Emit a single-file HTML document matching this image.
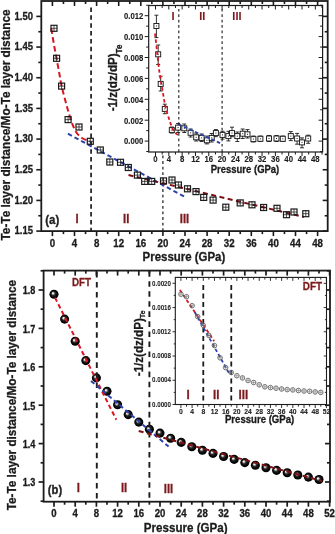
<!DOCTYPE html>
<html><head><meta charset="utf-8"><style>
html,body{margin:0;padding:0;background:#fff;}
svg{display:block;will-change:transform;}
text{font-family:'Liberation Sans',sans-serif;font-weight:bold;}
</style></head><body>
<svg width="335" height="534" viewBox="0 0 335 534">
<rect width="335" height="534" fill="#fff"/>
<rect x="41.3" y="1.0" width="286.4" height="230.1" fill="none" stroke="#1b1b1b" stroke-width="1.8"/>
<line x1="52.4" y1="231.1" x2="52.4" y2="236.1" stroke="#1b1b1b" stroke-width="1.6" stroke-linecap="butt"/>
<line x1="52.4" y1="1.0" x2="52.4" y2="6.0" stroke="#1b1b1b" stroke-width="1.6" stroke-linecap="butt"/>
<text x="0" y="0" transform="translate(52.4,246.6) scale(1,1.1)" font-size="9.7" text-anchor="middle" fill="#1b1b1b" stroke="#1b1b1b" stroke-width="0.28" >0</text>
<line x1="63.45" y1="231.1" x2="63.45" y2="234.1" stroke="#1b1b1b" stroke-width="1.6" stroke-linecap="butt"/>
<line x1="63.45" y1="1.0" x2="63.45" y2="4.0" stroke="#1b1b1b" stroke-width="1.6" stroke-linecap="butt"/>
<line x1="74.5" y1="231.1" x2="74.5" y2="236.1" stroke="#1b1b1b" stroke-width="1.6" stroke-linecap="butt"/>
<line x1="74.5" y1="1.0" x2="74.5" y2="6.0" stroke="#1b1b1b" stroke-width="1.6" stroke-linecap="butt"/>
<text x="0" y="0" transform="translate(74.5,246.6) scale(1,1.1)" font-size="9.7" text-anchor="middle" fill="#1b1b1b" stroke="#1b1b1b" stroke-width="0.28" >4</text>
<line x1="85.55000000000001" y1="231.1" x2="85.55000000000001" y2="234.1" stroke="#1b1b1b" stroke-width="1.6" stroke-linecap="butt"/>
<line x1="85.55000000000001" y1="1.0" x2="85.55000000000001" y2="4.0" stroke="#1b1b1b" stroke-width="1.6" stroke-linecap="butt"/>
<line x1="96.6" y1="231.1" x2="96.6" y2="236.1" stroke="#1b1b1b" stroke-width="1.6" stroke-linecap="butt"/>
<line x1="96.6" y1="1.0" x2="96.6" y2="6.0" stroke="#1b1b1b" stroke-width="1.6" stroke-linecap="butt"/>
<text x="0" y="0" transform="translate(96.6,246.6) scale(1,1.1)" font-size="9.7" text-anchor="middle" fill="#1b1b1b" stroke="#1b1b1b" stroke-width="0.28" >8</text>
<line x1="107.65" y1="231.1" x2="107.65" y2="234.1" stroke="#1b1b1b" stroke-width="1.6" stroke-linecap="butt"/>
<line x1="107.65" y1="1.0" x2="107.65" y2="4.0" stroke="#1b1b1b" stroke-width="1.6" stroke-linecap="butt"/>
<line x1="118.70000000000002" y1="231.1" x2="118.70000000000002" y2="236.1" stroke="#1b1b1b" stroke-width="1.6" stroke-linecap="butt"/>
<line x1="118.70000000000002" y1="1.0" x2="118.70000000000002" y2="6.0" stroke="#1b1b1b" stroke-width="1.6" stroke-linecap="butt"/>
<text x="0" y="0" transform="translate(118.70000000000002,246.6) scale(1,1.1)" font-size="9.7" text-anchor="middle" fill="#1b1b1b" stroke="#1b1b1b" stroke-width="0.28" >12</text>
<line x1="129.75" y1="231.1" x2="129.75" y2="234.1" stroke="#1b1b1b" stroke-width="1.6" stroke-linecap="butt"/>
<line x1="129.75" y1="1.0" x2="129.75" y2="4.0" stroke="#1b1b1b" stroke-width="1.6" stroke-linecap="butt"/>
<line x1="140.8" y1="231.1" x2="140.8" y2="236.1" stroke="#1b1b1b" stroke-width="1.6" stroke-linecap="butt"/>
<line x1="140.8" y1="1.0" x2="140.8" y2="6.0" stroke="#1b1b1b" stroke-width="1.6" stroke-linecap="butt"/>
<text x="0" y="0" transform="translate(140.8,246.6) scale(1,1.1)" font-size="9.7" text-anchor="middle" fill="#1b1b1b" stroke="#1b1b1b" stroke-width="0.28" >16</text>
<line x1="151.85" y1="231.1" x2="151.85" y2="234.1" stroke="#1b1b1b" stroke-width="1.6" stroke-linecap="butt"/>
<line x1="151.85" y1="1.0" x2="151.85" y2="4.0" stroke="#1b1b1b" stroke-width="1.6" stroke-linecap="butt"/>
<line x1="162.9" y1="231.1" x2="162.9" y2="236.1" stroke="#1b1b1b" stroke-width="1.6" stroke-linecap="butt"/>
<line x1="162.9" y1="1.0" x2="162.9" y2="6.0" stroke="#1b1b1b" stroke-width="1.6" stroke-linecap="butt"/>
<text x="0" y="0" transform="translate(162.9,246.6) scale(1,1.1)" font-size="9.7" text-anchor="middle" fill="#1b1b1b" stroke="#1b1b1b" stroke-width="0.28" >20</text>
<line x1="173.95000000000002" y1="231.1" x2="173.95000000000002" y2="234.1" stroke="#1b1b1b" stroke-width="1.6" stroke-linecap="butt"/>
<line x1="173.95000000000002" y1="1.0" x2="173.95000000000002" y2="4.0" stroke="#1b1b1b" stroke-width="1.6" stroke-linecap="butt"/>
<line x1="185.00000000000003" y1="231.1" x2="185.00000000000003" y2="236.1" stroke="#1b1b1b" stroke-width="1.6" stroke-linecap="butt"/>
<line x1="185.00000000000003" y1="1.0" x2="185.00000000000003" y2="6.0" stroke="#1b1b1b" stroke-width="1.6" stroke-linecap="butt"/>
<text x="0" y="0" transform="translate(185.00000000000003,246.6) scale(1,1.1)" font-size="9.7" text-anchor="middle" fill="#1b1b1b" stroke="#1b1b1b" stroke-width="0.28" >24</text>
<line x1="196.05" y1="231.1" x2="196.05" y2="234.1" stroke="#1b1b1b" stroke-width="1.6" stroke-linecap="butt"/>
<line x1="196.05" y1="1.0" x2="196.05" y2="4.0" stroke="#1b1b1b" stroke-width="1.6" stroke-linecap="butt"/>
<line x1="207.10000000000002" y1="231.1" x2="207.10000000000002" y2="236.1" stroke="#1b1b1b" stroke-width="1.6" stroke-linecap="butt"/>
<line x1="207.10000000000002" y1="1.0" x2="207.10000000000002" y2="6.0" stroke="#1b1b1b" stroke-width="1.6" stroke-linecap="butt"/>
<text x="0" y="0" transform="translate(207.10000000000002,246.6) scale(1,1.1)" font-size="9.7" text-anchor="middle" fill="#1b1b1b" stroke="#1b1b1b" stroke-width="0.28" >28</text>
<line x1="218.15" y1="231.1" x2="218.15" y2="234.1" stroke="#1b1b1b" stroke-width="1.6" stroke-linecap="butt"/>
<line x1="218.15" y1="1.0" x2="218.15" y2="4.0" stroke="#1b1b1b" stroke-width="1.6" stroke-linecap="butt"/>
<line x1="229.20000000000002" y1="231.1" x2="229.20000000000002" y2="236.1" stroke="#1b1b1b" stroke-width="1.6" stroke-linecap="butt"/>
<line x1="229.20000000000002" y1="1.0" x2="229.20000000000002" y2="6.0" stroke="#1b1b1b" stroke-width="1.6" stroke-linecap="butt"/>
<text x="0" y="0" transform="translate(229.20000000000002,246.6) scale(1,1.1)" font-size="9.7" text-anchor="middle" fill="#1b1b1b" stroke="#1b1b1b" stroke-width="0.28" >32</text>
<line x1="240.25000000000003" y1="231.1" x2="240.25000000000003" y2="234.1" stroke="#1b1b1b" stroke-width="1.6" stroke-linecap="butt"/>
<line x1="240.25000000000003" y1="1.0" x2="240.25000000000003" y2="4.0" stroke="#1b1b1b" stroke-width="1.6" stroke-linecap="butt"/>
<line x1="251.3" y1="231.1" x2="251.3" y2="236.1" stroke="#1b1b1b" stroke-width="1.6" stroke-linecap="butt"/>
<line x1="251.3" y1="1.0" x2="251.3" y2="6.0" stroke="#1b1b1b" stroke-width="1.6" stroke-linecap="butt"/>
<text x="0" y="0" transform="translate(251.3,246.6) scale(1,1.1)" font-size="9.7" text-anchor="middle" fill="#1b1b1b" stroke="#1b1b1b" stroke-width="0.28" >36</text>
<line x1="262.35" y1="231.1" x2="262.35" y2="234.1" stroke="#1b1b1b" stroke-width="1.6" stroke-linecap="butt"/>
<line x1="262.35" y1="1.0" x2="262.35" y2="4.0" stroke="#1b1b1b" stroke-width="1.6" stroke-linecap="butt"/>
<line x1="273.4" y1="231.1" x2="273.4" y2="236.1" stroke="#1b1b1b" stroke-width="1.6" stroke-linecap="butt"/>
<line x1="273.4" y1="1.0" x2="273.4" y2="6.0" stroke="#1b1b1b" stroke-width="1.6" stroke-linecap="butt"/>
<text x="0" y="0" transform="translate(273.4,246.6) scale(1,1.1)" font-size="9.7" text-anchor="middle" fill="#1b1b1b" stroke="#1b1b1b" stroke-width="0.28" >40</text>
<line x1="284.45" y1="231.1" x2="284.45" y2="234.1" stroke="#1b1b1b" stroke-width="1.6" stroke-linecap="butt"/>
<line x1="284.45" y1="1.0" x2="284.45" y2="4.0" stroke="#1b1b1b" stroke-width="1.6" stroke-linecap="butt"/>
<line x1="295.5" y1="231.1" x2="295.5" y2="236.1" stroke="#1b1b1b" stroke-width="1.6" stroke-linecap="butt"/>
<line x1="295.5" y1="1.0" x2="295.5" y2="6.0" stroke="#1b1b1b" stroke-width="1.6" stroke-linecap="butt"/>
<text x="0" y="0" transform="translate(295.5,246.6) scale(1,1.1)" font-size="9.7" text-anchor="middle" fill="#1b1b1b" stroke="#1b1b1b" stroke-width="0.28" >44</text>
<line x1="306.55" y1="231.1" x2="306.55" y2="234.1" stroke="#1b1b1b" stroke-width="1.6" stroke-linecap="butt"/>
<line x1="306.55" y1="1.0" x2="306.55" y2="4.0" stroke="#1b1b1b" stroke-width="1.6" stroke-linecap="butt"/>
<line x1="317.6" y1="231.1" x2="317.6" y2="236.1" stroke="#1b1b1b" stroke-width="1.6" stroke-linecap="butt"/>
<line x1="317.6" y1="1.0" x2="317.6" y2="6.0" stroke="#1b1b1b" stroke-width="1.6" stroke-linecap="butt"/>
<text x="0" y="0" transform="translate(317.6,246.6) scale(1,1.1)" font-size="9.7" text-anchor="middle" fill="#1b1b1b" stroke="#1b1b1b" stroke-width="0.28" >48</text>
<line x1="36.3" y1="231.09000000000006" x2="41.3" y2="231.09000000000006" stroke="#1b1b1b" stroke-width="1.6" stroke-linecap="butt"/>
<line x1="322.7" y1="231.09000000000006" x2="327.7" y2="231.09000000000006" stroke="#1b1b1b" stroke-width="1.6" stroke-linecap="butt"/>
<text x="0" y="0" transform="translate(33.0,234.29000000000005) scale(1,1.1)" font-size="9.5" text-anchor="end" fill="#1b1b1b" stroke="#1b1b1b" stroke-width="0.28" >1.15</text>
<line x1="38.3" y1="215.7550000000001" x2="41.3" y2="215.7550000000001" stroke="#1b1b1b" stroke-width="1.6" stroke-linecap="butt"/>
<line x1="324.7" y1="215.7550000000001" x2="327.7" y2="215.7550000000001" stroke="#1b1b1b" stroke-width="1.6" stroke-linecap="butt"/>
<line x1="36.3" y1="200.42000000000002" x2="41.3" y2="200.42000000000002" stroke="#1b1b1b" stroke-width="1.6" stroke-linecap="butt"/>
<line x1="322.7" y1="200.42000000000002" x2="327.7" y2="200.42000000000002" stroke="#1b1b1b" stroke-width="1.6" stroke-linecap="butt"/>
<text x="0" y="0" transform="translate(33.0,203.62) scale(1,1.1)" font-size="9.5" text-anchor="end" fill="#1b1b1b" stroke="#1b1b1b" stroke-width="0.28" >1.20</text>
<line x1="38.3" y1="185.0850000000001" x2="41.3" y2="185.0850000000001" stroke="#1b1b1b" stroke-width="1.6" stroke-linecap="butt"/>
<line x1="324.7" y1="185.0850000000001" x2="327.7" y2="185.0850000000001" stroke="#1b1b1b" stroke-width="1.6" stroke-linecap="butt"/>
<line x1="36.3" y1="169.75" x2="41.3" y2="169.75" stroke="#1b1b1b" stroke-width="1.6" stroke-linecap="butt"/>
<line x1="322.7" y1="169.75" x2="327.7" y2="169.75" stroke="#1b1b1b" stroke-width="1.6" stroke-linecap="butt"/>
<text x="0" y="0" transform="translate(33.0,172.95) scale(1,1.1)" font-size="9.5" text-anchor="end" fill="#1b1b1b" stroke="#1b1b1b" stroke-width="0.28" >1.25</text>
<line x1="38.3" y1="154.41500000000005" x2="41.3" y2="154.41500000000005" stroke="#1b1b1b" stroke-width="1.6" stroke-linecap="butt"/>
<line x1="324.7" y1="154.41500000000005" x2="327.7" y2="154.41500000000005" stroke="#1b1b1b" stroke-width="1.6" stroke-linecap="butt"/>
<line x1="36.3" y1="139.0800000000001" x2="41.3" y2="139.0800000000001" stroke="#1b1b1b" stroke-width="1.6" stroke-linecap="butt"/>
<line x1="322.7" y1="139.0800000000001" x2="327.7" y2="139.0800000000001" stroke="#1b1b1b" stroke-width="1.6" stroke-linecap="butt"/>
<text x="0" y="0" transform="translate(33.0,142.2800000000001) scale(1,1.1)" font-size="9.5" text-anchor="end" fill="#1b1b1b" stroke="#1b1b1b" stroke-width="0.28" >1.30</text>
<line x1="38.3" y1="123.74500000000003" x2="41.3" y2="123.74500000000003" stroke="#1b1b1b" stroke-width="1.6" stroke-linecap="butt"/>
<line x1="324.7" y1="123.74500000000003" x2="327.7" y2="123.74500000000003" stroke="#1b1b1b" stroke-width="1.6" stroke-linecap="butt"/>
<line x1="36.3" y1="108.41000000000008" x2="41.3" y2="108.41000000000008" stroke="#1b1b1b" stroke-width="1.6" stroke-linecap="butt"/>
<line x1="322.7" y1="108.41000000000008" x2="327.7" y2="108.41000000000008" stroke="#1b1b1b" stroke-width="1.6" stroke-linecap="butt"/>
<text x="0" y="0" transform="translate(33.0,111.61000000000008) scale(1,1.1)" font-size="9.5" text-anchor="end" fill="#1b1b1b" stroke="#1b1b1b" stroke-width="0.28" >1.35</text>
<line x1="38.3" y1="93.07499999999999" x2="41.3" y2="93.07499999999999" stroke="#1b1b1b" stroke-width="1.6" stroke-linecap="butt"/>
<line x1="324.7" y1="93.07499999999999" x2="327.7" y2="93.07499999999999" stroke="#1b1b1b" stroke-width="1.6" stroke-linecap="butt"/>
<line x1="36.3" y1="77.74000000000005" x2="41.3" y2="77.74000000000005" stroke="#1b1b1b" stroke-width="1.6" stroke-linecap="butt"/>
<line x1="322.7" y1="77.74000000000005" x2="327.7" y2="77.74000000000005" stroke="#1b1b1b" stroke-width="1.6" stroke-linecap="butt"/>
<text x="0" y="0" transform="translate(33.0,80.94000000000005) scale(1,1.1)" font-size="9.5" text-anchor="end" fill="#1b1b1b" stroke="#1b1b1b" stroke-width="0.28" >1.40</text>
<line x1="38.3" y1="62.40500000000011" x2="41.3" y2="62.40500000000011" stroke="#1b1b1b" stroke-width="1.6" stroke-linecap="butt"/>
<line x1="324.7" y1="62.40500000000011" x2="327.7" y2="62.40500000000011" stroke="#1b1b1b" stroke-width="1.6" stroke-linecap="butt"/>
<line x1="36.3" y1="47.07000000000002" x2="41.3" y2="47.07000000000002" stroke="#1b1b1b" stroke-width="1.6" stroke-linecap="butt"/>
<line x1="322.7" y1="47.07000000000002" x2="327.7" y2="47.07000000000002" stroke="#1b1b1b" stroke-width="1.6" stroke-linecap="butt"/>
<text x="0" y="0" transform="translate(33.0,50.270000000000024) scale(1,1.1)" font-size="9.5" text-anchor="end" fill="#1b1b1b" stroke="#1b1b1b" stroke-width="0.28" >1.45</text>
<line x1="38.3" y1="31.735000000000078" x2="41.3" y2="31.735000000000078" stroke="#1b1b1b" stroke-width="1.6" stroke-linecap="butt"/>
<line x1="324.7" y1="31.735000000000078" x2="327.7" y2="31.735000000000078" stroke="#1b1b1b" stroke-width="1.6" stroke-linecap="butt"/>
<line x1="36.3" y1="16.4" x2="41.3" y2="16.4" stroke="#1b1b1b" stroke-width="1.6" stroke-linecap="butt"/>
<line x1="322.7" y1="16.4" x2="327.7" y2="16.4" stroke="#1b1b1b" stroke-width="1.6" stroke-linecap="butt"/>
<text x="0" y="0" transform="translate(33.0,19.599999999999998) scale(1,1.1)" font-size="9.5" text-anchor="end" fill="#1b1b1b" stroke="#1b1b1b" stroke-width="0.28" >1.50</text>
<text x="0" y="0" font-size="11.82" text-anchor="middle" fill="#1b1b1b" stroke="#1b1b1b" stroke-width="0.28" transform="translate(9.5,125.0) rotate(-90) scale(1,1.05)">Te-Te layer distance/Mo-Te layer distance</text>
<text x="0" y="0" transform="translate(183.9,261.2) scale(1,1.1)" font-size="11.45" text-anchor="middle" fill="#1b1b1b" stroke="#1b1b1b" stroke-width="0.28" >Pressure (GPa)</text>
<line x1="91.075" y1="7.5" x2="91.075" y2="231.1" stroke="#1b1b1b" stroke-width="1.7" stroke-dasharray="4.5 3.37" stroke-linecap="butt"/>
<line x1="162.9" y1="231.1" x2="162.9" y2="152" stroke="#1b1b1b" stroke-width="1.2" stroke-dasharray="2.8 2.8" stroke-linecap="butt"/>
<text x="0" y="0" transform="translate(52.2,223.8) scale(1,1.1)" font-size="11.5" text-anchor="middle" fill="#222" stroke="#222" stroke-width="0.28" >(a)</text>
<text x="0" y="0" transform="translate(77.0,222.7) scale(1,1.1)" font-size="11.3" text-anchor="middle" fill="#7d1a1e" stroke="#7d1a1e" stroke-width="0.28" >I</text>
<text x="0" y="0" transform="translate(126.2,222.5) scale(1,1.1)" font-size="11.3" text-anchor="middle" fill="#7d1a1e" stroke="#7d1a1e" stroke-width="0.28" >II</text>
<text x="0" y="0" transform="translate(184.5,222.7) scale(1,1.1)" font-size="11.3" text-anchor="middle" fill="#7d1a1e" stroke="#7d1a1e" stroke-width="0.28" >III</text>
<path d="M51.20,28.50 C51.73,31.58 53.40,41.42 54.40,47.00 C55.40,52.58 56.33,57.33 57.20,62.00 C58.07,66.67 58.87,71.00 59.60,75.00 C60.33,79.00 60.62,81.63 61.60,86.00 C62.58,90.37 64.30,96.70 65.50,101.20 C66.70,105.70 67.60,109.07 68.80,113.00 C70.00,116.93 71.40,121.52 72.70,124.80 C74.00,128.08 75.07,130.50 76.60,132.70 C78.13,134.90 80.03,136.68 81.90,138.00 C83.77,139.32 86.45,140.03 87.80,140.60 C89.15,141.17 89.63,141.27 90.00,141.40" fill="none" stroke="#d81520" stroke-width="2" stroke-dasharray="5.6 3.2"/>
<line x1="67.9" y1="133.7" x2="185" y2="197" stroke="#2c42aa" stroke-width="2" stroke-dasharray="4.5 3" stroke-linecap="butt"/>
<line x1="128.5" y1="175" x2="304" y2="217" stroke="#7e1016" stroke-width="2" stroke-dasharray="5 3.5" stroke-linecap="butt"/>
<rect x="51.0" y="25.3" width="6.0" height="6.0" fill="none" stroke="#1b1b1b" stroke-width="1.2"/>
<line x1="54" y1="25.3" x2="54" y2="31.3" stroke="#1b1b1b" stroke-width="0.75" stroke-linecap="butt"/>
<line x1="51.0" y1="28.3" x2="57.0" y2="28.3" stroke="#1b1b1b" stroke-width="0.75" stroke-linecap="butt"/>
<rect x="53.6" y="55.3" width="6.0" height="6.0" fill="none" stroke="#1b1b1b" stroke-width="1.2"/>
<line x1="56.6" y1="55.3" x2="56.6" y2="61.3" stroke="#1b1b1b" stroke-width="0.75" stroke-linecap="butt"/>
<line x1="53.6" y1="58.3" x2="59.6" y2="58.3" stroke="#1b1b1b" stroke-width="0.75" stroke-linecap="butt"/>
<rect x="58.6" y="83.1" width="6.0" height="6.0" fill="none" stroke="#1b1b1b" stroke-width="1.2"/>
<line x1="61.6" y1="83.1" x2="61.6" y2="89.1" stroke="#1b1b1b" stroke-width="0.75" stroke-linecap="butt"/>
<line x1="58.6" y1="86.1" x2="64.6" y2="86.1" stroke="#1b1b1b" stroke-width="0.75" stroke-linecap="butt"/>
<rect x="65.1" y="116.6" width="6.0" height="6.0" fill="none" stroke="#1b1b1b" stroke-width="1.2"/>
<line x1="68.1" y1="116.6" x2="68.1" y2="122.6" stroke="#1b1b1b" stroke-width="0.75" stroke-linecap="butt"/>
<line x1="65.1" y1="119.6" x2="71.1" y2="119.6" stroke="#1b1b1b" stroke-width="0.75" stroke-linecap="butt"/>
<rect x="76.0" y="124.0" width="6.0" height="6.0" fill="none" stroke="#1b1b1b" stroke-width="1.2"/>
<line x1="79" y1="124.0" x2="79" y2="130.0" stroke="#1b1b1b" stroke-width="0.75" stroke-linecap="butt"/>
<line x1="76.0" y1="127" x2="82.0" y2="127" stroke="#1b1b1b" stroke-width="0.75" stroke-linecap="butt"/>
<rect x="87.3" y="138.3" width="6.0" height="6.0" fill="none" stroke="#1b1b1b" stroke-width="1.2"/>
<line x1="90.3" y1="138.3" x2="90.3" y2="144.3" stroke="#1b1b1b" stroke-width="0.75" stroke-linecap="butt"/>
<line x1="87.3" y1="141.3" x2="93.3" y2="141.3" stroke="#1b1b1b" stroke-width="0.75" stroke-linecap="butt"/>
<rect x="97.3" y="147.0" width="6.0" height="6.0" fill="none" stroke="#1b1b1b" stroke-width="1.2"/>
<line x1="100.3" y1="147.0" x2="100.3" y2="153.0" stroke="#1b1b1b" stroke-width="0.75" stroke-linecap="butt"/>
<line x1="97.3" y1="150" x2="103.3" y2="150" stroke="#1b1b1b" stroke-width="0.75" stroke-linecap="butt"/>
<rect x="106.8" y="159.0" width="6.0" height="6.0" fill="none" stroke="#1b1b1b" stroke-width="1.2"/>
<line x1="109.8" y1="159.0" x2="109.8" y2="165.0" stroke="#1b1b1b" stroke-width="0.75" stroke-linecap="butt"/>
<line x1="106.8" y1="162" x2="112.8" y2="162" stroke="#1b1b1b" stroke-width="0.75" stroke-linecap="butt"/>
<rect x="117.5" y="159.3" width="6.0" height="6.0" fill="none" stroke="#1b1b1b" stroke-width="1.2"/>
<line x1="120.5" y1="159.3" x2="120.5" y2="165.3" stroke="#1b1b1b" stroke-width="0.75" stroke-linecap="butt"/>
<line x1="117.5" y1="162.3" x2="123.5" y2="162.3" stroke="#1b1b1b" stroke-width="0.75" stroke-linecap="butt"/>
<rect x="125.30000000000001" y="164.5" width="6.0" height="6.0" fill="none" stroke="#1b1b1b" stroke-width="1.2"/>
<line x1="128.3" y1="164.5" x2="128.3" y2="170.5" stroke="#1b1b1b" stroke-width="0.75" stroke-linecap="butt"/>
<line x1="125.30000000000001" y1="167.5" x2="131.3" y2="167.5" stroke="#1b1b1b" stroke-width="0.75" stroke-linecap="butt"/>
<rect x="134.4" y="172.1" width="6.0" height="6.0" fill="none" stroke="#1b1b1b" stroke-width="1.2"/>
<line x1="137.4" y1="172.1" x2="137.4" y2="178.1" stroke="#1b1b1b" stroke-width="0.75" stroke-linecap="butt"/>
<line x1="134.4" y1="175.1" x2="140.4" y2="175.1" stroke="#1b1b1b" stroke-width="0.75" stroke-linecap="butt"/>
<rect x="141.7" y="178.4" width="6.0" height="6.0" fill="none" stroke="#1b1b1b" stroke-width="1.2"/>
<line x1="144.7" y1="178.4" x2="144.7" y2="184.4" stroke="#1b1b1b" stroke-width="0.75" stroke-linecap="butt"/>
<line x1="141.7" y1="181.4" x2="147.7" y2="181.4" stroke="#1b1b1b" stroke-width="0.75" stroke-linecap="butt"/>
<rect x="148.7" y="178.4" width="6.0" height="6.0" fill="none" stroke="#1b1b1b" stroke-width="1.2"/>
<line x1="151.7" y1="178.4" x2="151.7" y2="184.4" stroke="#1b1b1b" stroke-width="0.75" stroke-linecap="butt"/>
<line x1="148.7" y1="181.4" x2="154.7" y2="181.4" stroke="#1b1b1b" stroke-width="0.75" stroke-linecap="butt"/>
<rect x="160.5" y="177.9" width="6.0" height="6.0" fill="none" stroke="#1b1b1b" stroke-width="1.2"/>
<line x1="163.5" y1="177.9" x2="163.5" y2="183.9" stroke="#1b1b1b" stroke-width="0.75" stroke-linecap="butt"/>
<line x1="160.5" y1="180.9" x2="166.5" y2="180.9" stroke="#1b1b1b" stroke-width="0.75" stroke-linecap="butt"/>
<rect x="169.0" y="177.0" width="6.0" height="6.0" fill="none" stroke="#1b1b1b" stroke-width="1.2"/>
<line x1="172" y1="177.0" x2="172" y2="183.0" stroke="#1b1b1b" stroke-width="0.75" stroke-linecap="butt"/>
<line x1="169.0" y1="180" x2="175.0" y2="180" stroke="#1b1b1b" stroke-width="0.75" stroke-linecap="butt"/>
<rect x="175.4" y="182.0" width="6.0" height="6.0" fill="none" stroke="#1b1b1b" stroke-width="1.2"/>
<line x1="178.4" y1="182.0" x2="178.4" y2="188.0" stroke="#1b1b1b" stroke-width="0.75" stroke-linecap="butt"/>
<line x1="175.4" y1="185" x2="181.4" y2="185" stroke="#1b1b1b" stroke-width="0.75" stroke-linecap="butt"/>
<rect x="184.5" y="185.8" width="6.0" height="6.0" fill="none" stroke="#1b1b1b" stroke-width="1.2"/>
<line x1="187.5" y1="185.8" x2="187.5" y2="191.8" stroke="#1b1b1b" stroke-width="0.75" stroke-linecap="butt"/>
<line x1="184.5" y1="188.8" x2="190.5" y2="188.8" stroke="#1b1b1b" stroke-width="0.75" stroke-linecap="butt"/>
<rect x="193.0" y="188.6" width="6.0" height="6.0" fill="none" stroke="#1b1b1b" stroke-width="1.2"/>
<line x1="196" y1="188.6" x2="196" y2="194.6" stroke="#1b1b1b" stroke-width="0.75" stroke-linecap="butt"/>
<line x1="193.0" y1="191.6" x2="199.0" y2="191.6" stroke="#1b1b1b" stroke-width="0.75" stroke-linecap="butt"/>
<rect x="200.7" y="194.4" width="6.0" height="6.0" fill="none" stroke="#1b1b1b" stroke-width="1.2"/>
<line x1="203.7" y1="194.4" x2="203.7" y2="200.4" stroke="#1b1b1b" stroke-width="0.75" stroke-linecap="butt"/>
<line x1="200.7" y1="197.4" x2="206.7" y2="197.4" stroke="#1b1b1b" stroke-width="0.75" stroke-linecap="butt"/>
<rect x="210.1" y="197.1" width="6.0" height="6.0" fill="none" stroke="#1b1b1b" stroke-width="1.2"/>
<line x1="213.1" y1="197.1" x2="213.1" y2="203.1" stroke="#1b1b1b" stroke-width="0.75" stroke-linecap="butt"/>
<line x1="210.1" y1="200.1" x2="216.1" y2="200.1" stroke="#1b1b1b" stroke-width="0.75" stroke-linecap="butt"/>
<rect x="222.8" y="204.2" width="6.0" height="6.0" fill="none" stroke="#1b1b1b" stroke-width="1.2"/>
<line x1="225.8" y1="204.2" x2="225.8" y2="210.2" stroke="#1b1b1b" stroke-width="0.75" stroke-linecap="butt"/>
<line x1="222.8" y1="207.2" x2="228.8" y2="207.2" stroke="#1b1b1b" stroke-width="0.75" stroke-linecap="butt"/>
<rect x="237.2" y="199.9" width="6.0" height="6.0" fill="none" stroke="#1b1b1b" stroke-width="1.2"/>
<line x1="240.2" y1="199.9" x2="240.2" y2="205.9" stroke="#1b1b1b" stroke-width="0.75" stroke-linecap="butt"/>
<line x1="237.2" y1="202.9" x2="243.2" y2="202.9" stroke="#1b1b1b" stroke-width="0.75" stroke-linecap="butt"/>
<rect x="249.0" y="201.8" width="6.0" height="6.0" fill="none" stroke="#1b1b1b" stroke-width="1.2"/>
<line x1="252" y1="201.8" x2="252" y2="207.8" stroke="#1b1b1b" stroke-width="0.75" stroke-linecap="butt"/>
<line x1="249.0" y1="204.8" x2="255.0" y2="204.8" stroke="#1b1b1b" stroke-width="0.75" stroke-linecap="butt"/>
<rect x="260.6" y="204.5" width="6.0" height="6.0" fill="none" stroke="#1b1b1b" stroke-width="1.2"/>
<line x1="263.6" y1="204.5" x2="263.6" y2="210.5" stroke="#1b1b1b" stroke-width="0.75" stroke-linecap="butt"/>
<line x1="260.6" y1="207.5" x2="266.6" y2="207.5" stroke="#1b1b1b" stroke-width="0.75" stroke-linecap="butt"/>
<rect x="274.0" y="205.3" width="6.0" height="6.0" fill="none" stroke="#1b1b1b" stroke-width="1.2"/>
<line x1="277" y1="205.3" x2="277" y2="211.3" stroke="#1b1b1b" stroke-width="0.75" stroke-linecap="butt"/>
<line x1="274.0" y1="208.3" x2="280.0" y2="208.3" stroke="#1b1b1b" stroke-width="0.75" stroke-linecap="butt"/>
<rect x="283.5" y="211.7" width="6.0" height="6.0" fill="none" stroke="#1b1b1b" stroke-width="1.2"/>
<line x1="286.5" y1="211.7" x2="286.5" y2="217.7" stroke="#1b1b1b" stroke-width="0.75" stroke-linecap="butt"/>
<line x1="283.5" y1="214.7" x2="289.5" y2="214.7" stroke="#1b1b1b" stroke-width="0.75" stroke-linecap="butt"/>
<rect x="291.0" y="209.0" width="6.0" height="6.0" fill="none" stroke="#1b1b1b" stroke-width="1.2"/>
<line x1="294" y1="209.0" x2="294" y2="215.0" stroke="#1b1b1b" stroke-width="0.75" stroke-linecap="butt"/>
<line x1="291.0" y1="212" x2="297.0" y2="212" stroke="#1b1b1b" stroke-width="0.75" stroke-linecap="butt"/>
<rect x="302.8" y="210.7" width="6.0" height="6.0" fill="none" stroke="#1b1b1b" stroke-width="1.2"/>
<line x1="305.8" y1="210.7" x2="305.8" y2="216.7" stroke="#1b1b1b" stroke-width="0.75" stroke-linecap="butt"/>
<line x1="302.8" y1="213.7" x2="308.8" y2="213.7" stroke="#1b1b1b" stroke-width="0.75" stroke-linecap="butt"/>
<rect x="148.7" y="5.5" width="173.90000000000003" height="146.5" fill="#fff" stroke="#1b1b1b" stroke-width="1.2"/>
<line x1="155.5" y1="152.0" x2="155.5" y2="156.0" stroke="#1b1b1b" stroke-width="1" stroke-linecap="butt"/>
<line x1="155.5" y1="5.5" x2="155.5" y2="9.5" stroke="#1b1b1b" stroke-width="1" stroke-linecap="butt"/>
<text x="0" y="0" transform="translate(155.5,162.0) scale(1,1.05)" font-size="7.8" text-anchor="middle" fill="#1b1b1b" stroke="#1b1b1b" stroke-width="0.12" >0</text>
<line x1="162.16" y1="152.0" x2="162.16" y2="154.5" stroke="#1b1b1b" stroke-width="1" stroke-linecap="butt"/>
<line x1="162.16" y1="5.5" x2="162.16" y2="8.0" stroke="#1b1b1b" stroke-width="1" stroke-linecap="butt"/>
<line x1="168.82" y1="152.0" x2="168.82" y2="156.0" stroke="#1b1b1b" stroke-width="1" stroke-linecap="butt"/>
<line x1="168.82" y1="5.5" x2="168.82" y2="9.5" stroke="#1b1b1b" stroke-width="1" stroke-linecap="butt"/>
<text x="0" y="0" transform="translate(168.82,162.0) scale(1,1.05)" font-size="7.8" text-anchor="middle" fill="#1b1b1b" stroke="#1b1b1b" stroke-width="0.12" >4</text>
<line x1="175.48" y1="152.0" x2="175.48" y2="154.5" stroke="#1b1b1b" stroke-width="1" stroke-linecap="butt"/>
<line x1="175.48" y1="5.5" x2="175.48" y2="8.0" stroke="#1b1b1b" stroke-width="1" stroke-linecap="butt"/>
<line x1="182.14" y1="152.0" x2="182.14" y2="156.0" stroke="#1b1b1b" stroke-width="1" stroke-linecap="butt"/>
<line x1="182.14" y1="5.5" x2="182.14" y2="9.5" stroke="#1b1b1b" stroke-width="1" stroke-linecap="butt"/>
<text x="0" y="0" transform="translate(182.14,162.0) scale(1,1.05)" font-size="7.8" text-anchor="middle" fill="#1b1b1b" stroke="#1b1b1b" stroke-width="0.12" >8</text>
<line x1="188.8" y1="152.0" x2="188.8" y2="154.5" stroke="#1b1b1b" stroke-width="1" stroke-linecap="butt"/>
<line x1="188.8" y1="5.5" x2="188.8" y2="8.0" stroke="#1b1b1b" stroke-width="1" stroke-linecap="butt"/>
<line x1="195.46" y1="152.0" x2="195.46" y2="156.0" stroke="#1b1b1b" stroke-width="1" stroke-linecap="butt"/>
<line x1="195.46" y1="5.5" x2="195.46" y2="9.5" stroke="#1b1b1b" stroke-width="1" stroke-linecap="butt"/>
<text x="0" y="0" transform="translate(195.46,162.0) scale(1,1.05)" font-size="7.8" text-anchor="middle" fill="#1b1b1b" stroke="#1b1b1b" stroke-width="0.12" >12</text>
<line x1="202.12" y1="152.0" x2="202.12" y2="154.5" stroke="#1b1b1b" stroke-width="1" stroke-linecap="butt"/>
<line x1="202.12" y1="5.5" x2="202.12" y2="8.0" stroke="#1b1b1b" stroke-width="1" stroke-linecap="butt"/>
<line x1="208.78" y1="152.0" x2="208.78" y2="156.0" stroke="#1b1b1b" stroke-width="1" stroke-linecap="butt"/>
<line x1="208.78" y1="5.5" x2="208.78" y2="9.5" stroke="#1b1b1b" stroke-width="1" stroke-linecap="butt"/>
<text x="0" y="0" transform="translate(208.78,162.0) scale(1,1.05)" font-size="7.8" text-anchor="middle" fill="#1b1b1b" stroke="#1b1b1b" stroke-width="0.12" >16</text>
<line x1="215.44" y1="152.0" x2="215.44" y2="154.5" stroke="#1b1b1b" stroke-width="1" stroke-linecap="butt"/>
<line x1="215.44" y1="5.5" x2="215.44" y2="8.0" stroke="#1b1b1b" stroke-width="1" stroke-linecap="butt"/>
<line x1="222.1" y1="152.0" x2="222.1" y2="156.0" stroke="#1b1b1b" stroke-width="1" stroke-linecap="butt"/>
<line x1="222.1" y1="5.5" x2="222.1" y2="9.5" stroke="#1b1b1b" stroke-width="1" stroke-linecap="butt"/>
<text x="0" y="0" transform="translate(222.1,162.0) scale(1,1.05)" font-size="7.8" text-anchor="middle" fill="#1b1b1b" stroke="#1b1b1b" stroke-width="0.12" >20</text>
<line x1="228.76" y1="152.0" x2="228.76" y2="154.5" stroke="#1b1b1b" stroke-width="1" stroke-linecap="butt"/>
<line x1="228.76" y1="5.5" x2="228.76" y2="8.0" stroke="#1b1b1b" stroke-width="1" stroke-linecap="butt"/>
<line x1="235.42000000000002" y1="152.0" x2="235.42000000000002" y2="156.0" stroke="#1b1b1b" stroke-width="1" stroke-linecap="butt"/>
<line x1="235.42000000000002" y1="5.5" x2="235.42000000000002" y2="9.5" stroke="#1b1b1b" stroke-width="1" stroke-linecap="butt"/>
<text x="0" y="0" transform="translate(235.42000000000002,162.0) scale(1,1.05)" font-size="7.8" text-anchor="middle" fill="#1b1b1b" stroke="#1b1b1b" stroke-width="0.12" >24</text>
<line x1="242.07999999999998" y1="152.0" x2="242.07999999999998" y2="154.5" stroke="#1b1b1b" stroke-width="1" stroke-linecap="butt"/>
<line x1="242.07999999999998" y1="5.5" x2="242.07999999999998" y2="8.0" stroke="#1b1b1b" stroke-width="1" stroke-linecap="butt"/>
<line x1="248.74" y1="152.0" x2="248.74" y2="156.0" stroke="#1b1b1b" stroke-width="1" stroke-linecap="butt"/>
<line x1="248.74" y1="5.5" x2="248.74" y2="9.5" stroke="#1b1b1b" stroke-width="1" stroke-linecap="butt"/>
<text x="0" y="0" transform="translate(248.74,162.0) scale(1,1.05)" font-size="7.8" text-anchor="middle" fill="#1b1b1b" stroke="#1b1b1b" stroke-width="0.12" >28</text>
<line x1="255.4" y1="152.0" x2="255.4" y2="154.5" stroke="#1b1b1b" stroke-width="1" stroke-linecap="butt"/>
<line x1="255.4" y1="5.5" x2="255.4" y2="8.0" stroke="#1b1b1b" stroke-width="1" stroke-linecap="butt"/>
<line x1="262.06" y1="152.0" x2="262.06" y2="156.0" stroke="#1b1b1b" stroke-width="1" stroke-linecap="butt"/>
<line x1="262.06" y1="5.5" x2="262.06" y2="9.5" stroke="#1b1b1b" stroke-width="1" stroke-linecap="butt"/>
<text x="0" y="0" transform="translate(262.06,162.0) scale(1,1.05)" font-size="7.8" text-anchor="middle" fill="#1b1b1b" stroke="#1b1b1b" stroke-width="0.12" >32</text>
<line x1="268.72" y1="152.0" x2="268.72" y2="154.5" stroke="#1b1b1b" stroke-width="1" stroke-linecap="butt"/>
<line x1="268.72" y1="5.5" x2="268.72" y2="8.0" stroke="#1b1b1b" stroke-width="1" stroke-linecap="butt"/>
<line x1="275.38" y1="152.0" x2="275.38" y2="156.0" stroke="#1b1b1b" stroke-width="1" stroke-linecap="butt"/>
<line x1="275.38" y1="5.5" x2="275.38" y2="9.5" stroke="#1b1b1b" stroke-width="1" stroke-linecap="butt"/>
<text x="0" y="0" transform="translate(275.38,162.0) scale(1,1.05)" font-size="7.8" text-anchor="middle" fill="#1b1b1b" stroke="#1b1b1b" stroke-width="0.12" >36</text>
<line x1="282.04" y1="152.0" x2="282.04" y2="154.5" stroke="#1b1b1b" stroke-width="1" stroke-linecap="butt"/>
<line x1="282.04" y1="5.5" x2="282.04" y2="8.0" stroke="#1b1b1b" stroke-width="1" stroke-linecap="butt"/>
<line x1="288.7" y1="152.0" x2="288.7" y2="156.0" stroke="#1b1b1b" stroke-width="1" stroke-linecap="butt"/>
<line x1="288.7" y1="5.5" x2="288.7" y2="9.5" stroke="#1b1b1b" stroke-width="1" stroke-linecap="butt"/>
<text x="0" y="0" transform="translate(288.7,162.0) scale(1,1.05)" font-size="7.8" text-anchor="middle" fill="#1b1b1b" stroke="#1b1b1b" stroke-width="0.12" >40</text>
<line x1="295.36" y1="152.0" x2="295.36" y2="154.5" stroke="#1b1b1b" stroke-width="1" stroke-linecap="butt"/>
<line x1="295.36" y1="5.5" x2="295.36" y2="8.0" stroke="#1b1b1b" stroke-width="1" stroke-linecap="butt"/>
<line x1="302.02" y1="152.0" x2="302.02" y2="156.0" stroke="#1b1b1b" stroke-width="1" stroke-linecap="butt"/>
<line x1="302.02" y1="5.5" x2="302.02" y2="9.5" stroke="#1b1b1b" stroke-width="1" stroke-linecap="butt"/>
<text x="0" y="0" transform="translate(302.02,162.0) scale(1,1.05)" font-size="7.8" text-anchor="middle" fill="#1b1b1b" stroke="#1b1b1b" stroke-width="0.12" >44</text>
<line x1="308.68" y1="152.0" x2="308.68" y2="154.5" stroke="#1b1b1b" stroke-width="1" stroke-linecap="butt"/>
<line x1="308.68" y1="5.5" x2="308.68" y2="8.0" stroke="#1b1b1b" stroke-width="1" stroke-linecap="butt"/>
<line x1="315.34000000000003" y1="152.0" x2="315.34000000000003" y2="156.0" stroke="#1b1b1b" stroke-width="1" stroke-linecap="butt"/>
<line x1="315.34000000000003" y1="5.5" x2="315.34000000000003" y2="9.5" stroke="#1b1b1b" stroke-width="1" stroke-linecap="butt"/>
<text x="0" y="0" transform="translate(315.34000000000003,162.0) scale(1,1.05)" font-size="7.8" text-anchor="middle" fill="#1b1b1b" stroke="#1b1b1b" stroke-width="0.12" >48</text>
<line x1="322.0" y1="152.0" x2="322.0" y2="154.5" stroke="#1b1b1b" stroke-width="1" stroke-linecap="butt"/>
<line x1="322.0" y1="5.5" x2="322.0" y2="8.0" stroke="#1b1b1b" stroke-width="1" stroke-linecap="butt"/>
<line x1="146.2" y1="151.54999999999998" x2="148.7" y2="151.54999999999998" stroke="#1b1b1b" stroke-width="1" stroke-linecap="butt"/>
<line x1="320.1" y1="151.54999999999998" x2="322.6" y2="151.54999999999998" stroke="#1b1b1b" stroke-width="1" stroke-linecap="butt"/>
<line x1="144.7" y1="141.1" x2="148.7" y2="141.1" stroke="#1b1b1b" stroke-width="1" stroke-linecap="butt"/>
<line x1="318.6" y1="141.1" x2="322.6" y2="141.1" stroke="#1b1b1b" stroke-width="1" stroke-linecap="butt"/>
<text x="0" y="0" transform="translate(143.3,144.4) scale(1,1.12)" font-size="7.7" text-anchor="end" fill="#1b1b1b" stroke="#1b1b1b" stroke-width="0.12" >0.000</text>
<line x1="146.2" y1="130.65" x2="148.7" y2="130.65" stroke="#1b1b1b" stroke-width="1" stroke-linecap="butt"/>
<line x1="320.1" y1="130.65" x2="322.6" y2="130.65" stroke="#1b1b1b" stroke-width="1" stroke-linecap="butt"/>
<line x1="144.7" y1="120.19999999999999" x2="148.7" y2="120.19999999999999" stroke="#1b1b1b" stroke-width="1" stroke-linecap="butt"/>
<line x1="318.6" y1="120.19999999999999" x2="322.6" y2="120.19999999999999" stroke="#1b1b1b" stroke-width="1" stroke-linecap="butt"/>
<text x="0" y="0" transform="translate(143.3,123.49999999999999) scale(1,1.12)" font-size="7.7" text-anchor="end" fill="#1b1b1b" stroke="#1b1b1b" stroke-width="0.12" >0.002</text>
<line x1="146.2" y1="109.75" x2="148.7" y2="109.75" stroke="#1b1b1b" stroke-width="1" stroke-linecap="butt"/>
<line x1="320.1" y1="109.75" x2="322.6" y2="109.75" stroke="#1b1b1b" stroke-width="1" stroke-linecap="butt"/>
<line x1="144.7" y1="99.29999999999998" x2="148.7" y2="99.29999999999998" stroke="#1b1b1b" stroke-width="1" stroke-linecap="butt"/>
<line x1="318.6" y1="99.29999999999998" x2="322.6" y2="99.29999999999998" stroke="#1b1b1b" stroke-width="1" stroke-linecap="butt"/>
<text x="0" y="0" transform="translate(143.3,102.59999999999998) scale(1,1.12)" font-size="7.7" text-anchor="end" fill="#1b1b1b" stroke="#1b1b1b" stroke-width="0.12" >0.004</text>
<line x1="146.2" y1="88.85" x2="148.7" y2="88.85" stroke="#1b1b1b" stroke-width="1" stroke-linecap="butt"/>
<line x1="320.1" y1="88.85" x2="322.6" y2="88.85" stroke="#1b1b1b" stroke-width="1" stroke-linecap="butt"/>
<line x1="144.7" y1="78.39999999999999" x2="148.7" y2="78.39999999999999" stroke="#1b1b1b" stroke-width="1" stroke-linecap="butt"/>
<line x1="318.6" y1="78.39999999999999" x2="322.6" y2="78.39999999999999" stroke="#1b1b1b" stroke-width="1" stroke-linecap="butt"/>
<text x="0" y="0" transform="translate(143.3,81.69999999999999) scale(1,1.12)" font-size="7.7" text-anchor="end" fill="#1b1b1b" stroke="#1b1b1b" stroke-width="0.12" >0.006</text>
<line x1="146.2" y1="67.94999999999999" x2="148.7" y2="67.94999999999999" stroke="#1b1b1b" stroke-width="1" stroke-linecap="butt"/>
<line x1="320.1" y1="67.94999999999999" x2="322.6" y2="67.94999999999999" stroke="#1b1b1b" stroke-width="1" stroke-linecap="butt"/>
<line x1="144.7" y1="57.499999999999986" x2="148.7" y2="57.499999999999986" stroke="#1b1b1b" stroke-width="1" stroke-linecap="butt"/>
<line x1="318.6" y1="57.499999999999986" x2="322.6" y2="57.499999999999986" stroke="#1b1b1b" stroke-width="1" stroke-linecap="butt"/>
<text x="0" y="0" transform="translate(143.3,60.79999999999998) scale(1,1.12)" font-size="7.7" text-anchor="end" fill="#1b1b1b" stroke="#1b1b1b" stroke-width="0.12" >0.008</text>
<line x1="146.2" y1="47.04999999999998" x2="148.7" y2="47.04999999999998" stroke="#1b1b1b" stroke-width="1" stroke-linecap="butt"/>
<line x1="320.1" y1="47.04999999999998" x2="322.6" y2="47.04999999999998" stroke="#1b1b1b" stroke-width="1" stroke-linecap="butt"/>
<line x1="144.7" y1="36.599999999999994" x2="148.7" y2="36.599999999999994" stroke="#1b1b1b" stroke-width="1" stroke-linecap="butt"/>
<line x1="318.6" y1="36.599999999999994" x2="322.6" y2="36.599999999999994" stroke="#1b1b1b" stroke-width="1" stroke-linecap="butt"/>
<text x="0" y="0" transform="translate(143.3,39.89999999999999) scale(1,1.12)" font-size="7.7" text-anchor="end" fill="#1b1b1b" stroke="#1b1b1b" stroke-width="0.12" >0.010</text>
<line x1="146.2" y1="26.150000000000006" x2="148.7" y2="26.150000000000006" stroke="#1b1b1b" stroke-width="1" stroke-linecap="butt"/>
<line x1="320.1" y1="26.150000000000006" x2="322.6" y2="26.150000000000006" stroke="#1b1b1b" stroke-width="1" stroke-linecap="butt"/>
<line x1="144.7" y1="15.699999999999989" x2="148.7" y2="15.699999999999989" stroke="#1b1b1b" stroke-width="1" stroke-linecap="butt"/>
<line x1="318.6" y1="15.699999999999989" x2="322.6" y2="15.699999999999989" stroke="#1b1b1b" stroke-width="1" stroke-linecap="butt"/>
<text x="0" y="0" transform="translate(143.3,18.99999999999999) scale(1,1.12)" font-size="7.7" text-anchor="end" fill="#1b1b1b" stroke="#1b1b1b" stroke-width="0.12" >0.012</text>
<line x1="146.2" y1="5.249999999999972" x2="148.7" y2="5.249999999999972" stroke="#1b1b1b" stroke-width="1" stroke-linecap="butt"/>
<line x1="320.1" y1="5.249999999999972" x2="322.6" y2="5.249999999999972" stroke="#1b1b1b" stroke-width="1" stroke-linecap="butt"/>
<text x="0" y="0" font-size="11.6" text-anchor="middle" fill="#1b1b1b" stroke="#1b1b1b" stroke-width="0.28" transform="translate(116.9,78) rotate(-90) scale(1,1.1)">-1/z(dz/dP)<tspan font-size="8" dy="4.2">Te</tspan></text>
<text x="0" y="0" transform="translate(245,172.5) scale(1,1.1)" font-size="9.5" text-anchor="middle" fill="#1b1b1b" stroke="#1b1b1b" stroke-width="0.28" >Pressure (GPa)</text>
<line x1="178.81" y1="152.0" x2="178.81" y2="6.5" stroke="#1b1b1b" stroke-width="1.1" stroke-dasharray="2.7 2.7" stroke-linecap="butt"/>
<line x1="222.1" y1="152.0" x2="222.1" y2="6.5" stroke="#1b1b1b" stroke-width="1.1" stroke-dasharray="2.7 2.7" stroke-linecap="butt"/>
<text x="0" y="0" transform="translate(173.1,19.8) scale(1,1.0)" font-size="11.0" text-anchor="middle" fill="#7d1a1e" stroke="#7d1a1e" stroke-width="0.1" >I</text>
<text x="0" y="0" transform="translate(202.3,20.3) scale(1,1.05)" font-size="11.0" text-anchor="middle" fill="#7d1a1e" stroke="#7d1a1e" stroke-width="0.1" >II</text>
<text x="0" y="0" transform="translate(236.9,20.3) scale(1,1.05)" font-size="11.0" text-anchor="middle" fill="#7d1a1e" stroke="#7d1a1e" stroke-width="0.1" >III</text>
<line x1="156.4" y1="15.2" x2="156.4" y2="37.6" stroke="#1b1b1b" stroke-width="0.9" stroke-linecap="butt"/>
<line x1="154.4" y1="15.2" x2="158.4" y2="15.2" stroke="#1b1b1b" stroke-width="0.9" stroke-linecap="butt"/>
<line x1="154.4" y1="37.6" x2="158.4" y2="37.6" stroke="#1b1b1b" stroke-width="0.9" stroke-linecap="butt"/>
<rect x="153.9" y="23.5" width="5.0" height="5.0" fill="#fff" stroke="#1b1b1b" stroke-width="0.95"/>
<rect x="155.9" y="25.5" width="1" height="1" fill="#1b1b1b"/>
<line x1="158.2" y1="45" x2="158.2" y2="64.5" stroke="#1b1b1b" stroke-width="0.9" stroke-linecap="butt"/>
<line x1="156.2" y1="45" x2="160.2" y2="45" stroke="#1b1b1b" stroke-width="0.9" stroke-linecap="butt"/>
<line x1="156.2" y1="64.5" x2="160.2" y2="64.5" stroke="#1b1b1b" stroke-width="0.9" stroke-linecap="butt"/>
<rect x="155.7" y="51.8" width="5.0" height="5.0" fill="#fff" stroke="#1b1b1b" stroke-width="0.95"/>
<rect x="157.7" y="53.8" width="1" height="1" fill="#1b1b1b"/>
<line x1="160.7" y1="76.2" x2="160.7" y2="91" stroke="#1b1b1b" stroke-width="0.9" stroke-linecap="butt"/>
<line x1="158.7" y1="76.2" x2="162.7" y2="76.2" stroke="#1b1b1b" stroke-width="0.9" stroke-linecap="butt"/>
<line x1="158.7" y1="91" x2="162.7" y2="91" stroke="#1b1b1b" stroke-width="0.9" stroke-linecap="butt"/>
<rect x="158.2" y="81.4" width="5.0" height="5.0" fill="#fff" stroke="#1b1b1b" stroke-width="0.95"/>
<rect x="160.2" y="83.4" width="1" height="1" fill="#1b1b1b"/>
<line x1="164.8" y1="104.2" x2="164.8" y2="113.7" stroke="#1b1b1b" stroke-width="0.9" stroke-linecap="butt"/>
<line x1="162.8" y1="104.2" x2="166.8" y2="104.2" stroke="#1b1b1b" stroke-width="0.9" stroke-linecap="butt"/>
<line x1="162.8" y1="113.7" x2="166.8" y2="113.7" stroke="#1b1b1b" stroke-width="0.9" stroke-linecap="butt"/>
<rect x="162.3" y="106.4" width="5.0" height="5.0" fill="#fff" stroke="#1b1b1b" stroke-width="0.95"/>
<rect x="164.3" y="108.4" width="1" height="1" fill="#1b1b1b"/>
<line x1="171.8" y1="127" x2="171.8" y2="133" stroke="#1b1b1b" stroke-width="0.9" stroke-linecap="butt"/>
<line x1="169.8" y1="127" x2="173.8" y2="127" stroke="#1b1b1b" stroke-width="0.9" stroke-linecap="butt"/>
<line x1="169.8" y1="133" x2="173.8" y2="133" stroke="#1b1b1b" stroke-width="0.9" stroke-linecap="butt"/>
<rect x="169.3" y="127.6" width="5.0" height="5.0" fill="#fff" stroke="#1b1b1b" stroke-width="0.95"/>
<rect x="171.3" y="129.6" width="1" height="1" fill="#1b1b1b"/>
<line x1="178.1" y1="123.5" x2="178.1" y2="132.5" stroke="#1b1b1b" stroke-width="0.9" stroke-linecap="butt"/>
<line x1="176.1" y1="123.5" x2="180.1" y2="123.5" stroke="#1b1b1b" stroke-width="0.9" stroke-linecap="butt"/>
<line x1="176.1" y1="132.5" x2="180.1" y2="132.5" stroke="#1b1b1b" stroke-width="0.9" stroke-linecap="butt"/>
<rect x="175.6" y="125.1" width="5.0" height="5.0" fill="#fff" stroke="#1b1b1b" stroke-width="0.95"/>
<rect x="177.6" y="127.1" width="1" height="1" fill="#1b1b1b"/>
<line x1="184.3" y1="124" x2="184.3" y2="132.5" stroke="#1b1b1b" stroke-width="0.9" stroke-linecap="butt"/>
<line x1="182.3" y1="124" x2="186.3" y2="124" stroke="#1b1b1b" stroke-width="0.9" stroke-linecap="butt"/>
<line x1="182.3" y1="132.5" x2="186.3" y2="132.5" stroke="#1b1b1b" stroke-width="0.9" stroke-linecap="butt"/>
<rect x="181.8" y="125.80000000000001" width="5.0" height="5.0" fill="#fff" stroke="#1b1b1b" stroke-width="0.95"/>
<rect x="183.8" y="127.80000000000001" width="1" height="1" fill="#1b1b1b"/>
<line x1="190.6" y1="129" x2="190.6" y2="137" stroke="#1b1b1b" stroke-width="0.9" stroke-linecap="butt"/>
<line x1="188.6" y1="129" x2="192.6" y2="129" stroke="#1b1b1b" stroke-width="0.9" stroke-linecap="butt"/>
<line x1="188.6" y1="137" x2="192.6" y2="137" stroke="#1b1b1b" stroke-width="0.9" stroke-linecap="butt"/>
<rect x="188.1" y="130.3" width="5.0" height="5.0" fill="#fff" stroke="#1b1b1b" stroke-width="0.95"/>
<rect x="190.1" y="132.3" width="1" height="1" fill="#1b1b1b"/>
<line x1="196.2" y1="133" x2="196.2" y2="141" stroke="#1b1b1b" stroke-width="0.9" stroke-linecap="butt"/>
<line x1="194.2" y1="133" x2="198.2" y2="133" stroke="#1b1b1b" stroke-width="0.9" stroke-linecap="butt"/>
<line x1="194.2" y1="141" x2="198.2" y2="141" stroke="#1b1b1b" stroke-width="0.9" stroke-linecap="butt"/>
<rect x="193.7" y="134.8" width="5.0" height="5.0" fill="#fff" stroke="#1b1b1b" stroke-width="0.95"/>
<rect x="195.7" y="136.8" width="1" height="1" fill="#1b1b1b"/>
<line x1="201.6" y1="134" x2="201.6" y2="141.5" stroke="#1b1b1b" stroke-width="0.9" stroke-linecap="butt"/>
<line x1="199.6" y1="134" x2="203.6" y2="134" stroke="#1b1b1b" stroke-width="0.9" stroke-linecap="butt"/>
<line x1="199.6" y1="141.5" x2="203.6" y2="141.5" stroke="#1b1b1b" stroke-width="0.9" stroke-linecap="butt"/>
<rect x="199.1" y="135.4" width="5.0" height="5.0" fill="#fff" stroke="#1b1b1b" stroke-width="0.95"/>
<rect x="201.1" y="137.4" width="1" height="1" fill="#1b1b1b"/>
<line x1="206.9" y1="136.1" x2="206.9" y2="143.9" stroke="#1b1b1b" stroke-width="0.9" stroke-linecap="butt"/>
<line x1="204.9" y1="136.1" x2="208.9" y2="136.1" stroke="#1b1b1b" stroke-width="0.9" stroke-linecap="butt"/>
<line x1="204.9" y1="143.9" x2="208.9" y2="143.9" stroke="#1b1b1b" stroke-width="0.9" stroke-linecap="butt"/>
<rect x="204.4" y="137.8" width="5.0" height="5.0" fill="#fff" stroke="#1b1b1b" stroke-width="0.95"/>
<rect x="206.4" y="139.8" width="1" height="1" fill="#1b1b1b"/>
<line x1="211.7" y1="133.5" x2="211.7" y2="142" stroke="#1b1b1b" stroke-width="0.9" stroke-linecap="butt"/>
<line x1="209.7" y1="133.5" x2="213.7" y2="133.5" stroke="#1b1b1b" stroke-width="0.9" stroke-linecap="butt"/>
<line x1="209.7" y1="142" x2="213.7" y2="142" stroke="#1b1b1b" stroke-width="0.9" stroke-linecap="butt"/>
<rect x="209.2" y="135.4" width="5.0" height="5.0" fill="#fff" stroke="#1b1b1b" stroke-width="0.95"/>
<rect x="211.2" y="137.4" width="1" height="1" fill="#1b1b1b"/>
<line x1="215.9" y1="129.6" x2="215.9" y2="136.7" stroke="#1b1b1b" stroke-width="0.9" stroke-linecap="butt"/>
<line x1="213.9" y1="129.6" x2="217.9" y2="129.6" stroke="#1b1b1b" stroke-width="0.9" stroke-linecap="butt"/>
<line x1="213.9" y1="136.7" x2="217.9" y2="136.7" stroke="#1b1b1b" stroke-width="0.9" stroke-linecap="butt"/>
<rect x="213.4" y="130.6" width="5.0" height="5.0" fill="#fff" stroke="#1b1b1b" stroke-width="0.95"/>
<rect x="215.4" y="132.6" width="1" height="1" fill="#1b1b1b"/>
<line x1="222.5" y1="131.3" x2="222.5" y2="139.1" stroke="#1b1b1b" stroke-width="0.9" stroke-linecap="butt"/>
<line x1="220.5" y1="131.3" x2="224.5" y2="131.3" stroke="#1b1b1b" stroke-width="0.9" stroke-linecap="butt"/>
<line x1="220.5" y1="139.1" x2="224.5" y2="139.1" stroke="#1b1b1b" stroke-width="0.9" stroke-linecap="butt"/>
<rect x="220.0" y="132.4" width="5.0" height="5.0" fill="#fff" stroke="#1b1b1b" stroke-width="0.95"/>
<rect x="222.0" y="134.4" width="1" height="1" fill="#1b1b1b"/>
<line x1="228.4" y1="131.3" x2="228.4" y2="140.9" stroke="#1b1b1b" stroke-width="0.9" stroke-linecap="butt"/>
<line x1="226.4" y1="131.3" x2="230.4" y2="131.3" stroke="#1b1b1b" stroke-width="0.9" stroke-linecap="butt"/>
<line x1="226.4" y1="140.9" x2="230.4" y2="140.9" stroke="#1b1b1b" stroke-width="0.9" stroke-linecap="butt"/>
<rect x="225.9" y="133.6" width="5.0" height="5.0" fill="#fff" stroke="#1b1b1b" stroke-width="0.95"/>
<rect x="227.9" y="135.6" width="1" height="1" fill="#1b1b1b"/>
<line x1="232" y1="127.2" x2="232" y2="136.7" stroke="#1b1b1b" stroke-width="0.9" stroke-linecap="butt"/>
<line x1="230" y1="127.2" x2="234" y2="127.2" stroke="#1b1b1b" stroke-width="0.9" stroke-linecap="butt"/>
<line x1="230" y1="136.7" x2="234" y2="136.7" stroke="#1b1b1b" stroke-width="0.9" stroke-linecap="butt"/>
<rect x="229.5" y="130.6" width="5.0" height="5.0" fill="#fff" stroke="#1b1b1b" stroke-width="0.95"/>
<rect x="231.5" y="132.6" width="1" height="1" fill="#1b1b1b"/>
<line x1="237.3" y1="132" x2="237.3" y2="141.5" stroke="#1b1b1b" stroke-width="0.9" stroke-linecap="butt"/>
<line x1="235.3" y1="132" x2="239.3" y2="132" stroke="#1b1b1b" stroke-width="0.9" stroke-linecap="butt"/>
<line x1="235.3" y1="141.5" x2="239.3" y2="141.5" stroke="#1b1b1b" stroke-width="0.9" stroke-linecap="butt"/>
<rect x="234.8" y="133.6" width="5.0" height="5.0" fill="#fff" stroke="#1b1b1b" stroke-width="0.95"/>
<rect x="236.8" y="135.6" width="1" height="1" fill="#1b1b1b"/>
<line x1="242.7" y1="129" x2="242.7" y2="138.5" stroke="#1b1b1b" stroke-width="0.9" stroke-linecap="butt"/>
<line x1="240.7" y1="129" x2="244.7" y2="129" stroke="#1b1b1b" stroke-width="0.9" stroke-linecap="butt"/>
<line x1="240.7" y1="138.5" x2="244.7" y2="138.5" stroke="#1b1b1b" stroke-width="0.9" stroke-linecap="butt"/>
<rect x="240.2" y="131.2" width="5.0" height="5.0" fill="#fff" stroke="#1b1b1b" stroke-width="0.95"/>
<rect x="242.2" y="133.2" width="1" height="1" fill="#1b1b1b"/>
<line x1="247.5" y1="129.6" x2="247.5" y2="138" stroke="#1b1b1b" stroke-width="0.9" stroke-linecap="butt"/>
<line x1="245.5" y1="129.6" x2="249.5" y2="129.6" stroke="#1b1b1b" stroke-width="0.9" stroke-linecap="butt"/>
<line x1="245.5" y1="138" x2="249.5" y2="138" stroke="#1b1b1b" stroke-width="0.9" stroke-linecap="butt"/>
<rect x="245.0" y="131.8" width="5.0" height="5.0" fill="#fff" stroke="#1b1b1b" stroke-width="0.95"/>
<rect x="247.0" y="133.8" width="1" height="1" fill="#1b1b1b"/>
<line x1="253.4" y1="136" x2="253.4" y2="142" stroke="#1b1b1b" stroke-width="0.9" stroke-linecap="butt"/>
<line x1="251.4" y1="136" x2="255.4" y2="136" stroke="#1b1b1b" stroke-width="0.9" stroke-linecap="butt"/>
<line x1="251.4" y1="142" x2="255.4" y2="142" stroke="#1b1b1b" stroke-width="0.9" stroke-linecap="butt"/>
<rect x="250.9" y="136.6" width="5.0" height="5.0" fill="#fff" stroke="#1b1b1b" stroke-width="0.95"/>
<rect x="252.9" y="138.6" width="1" height="1" fill="#1b1b1b"/>
<line x1="260.4" y1="136" x2="260.4" y2="141.5" stroke="#1b1b1b" stroke-width="0.9" stroke-linecap="butt"/>
<line x1="258.4" y1="136" x2="262.4" y2="136" stroke="#1b1b1b" stroke-width="0.9" stroke-linecap="butt"/>
<line x1="258.4" y1="141.5" x2="262.4" y2="141.5" stroke="#1b1b1b" stroke-width="0.9" stroke-linecap="butt"/>
<rect x="257.9" y="136.3" width="5.0" height="5.0" fill="#fff" stroke="#1b1b1b" stroke-width="0.95"/>
<rect x="259.9" y="138.3" width="1" height="1" fill="#1b1b1b"/>
<line x1="269" y1="135.5" x2="269" y2="141.5" stroke="#1b1b1b" stroke-width="0.9" stroke-linecap="butt"/>
<line x1="267" y1="135.5" x2="271" y2="135.5" stroke="#1b1b1b" stroke-width="0.9" stroke-linecap="butt"/>
<line x1="267" y1="141.5" x2="271" y2="141.5" stroke="#1b1b1b" stroke-width="0.9" stroke-linecap="butt"/>
<rect x="266.5" y="136.0" width="5.0" height="5.0" fill="#fff" stroke="#1b1b1b" stroke-width="0.95"/>
<rect x="268.5" y="138.0" width="1" height="1" fill="#1b1b1b"/>
<line x1="276.5" y1="135.5" x2="276.5" y2="141.5" stroke="#1b1b1b" stroke-width="0.9" stroke-linecap="butt"/>
<line x1="274.5" y1="135.5" x2="278.5" y2="135.5" stroke="#1b1b1b" stroke-width="0.9" stroke-linecap="butt"/>
<line x1="274.5" y1="141.5" x2="278.5" y2="141.5" stroke="#1b1b1b" stroke-width="0.9" stroke-linecap="butt"/>
<rect x="274.0" y="136.0" width="5.0" height="5.0" fill="#fff" stroke="#1b1b1b" stroke-width="0.95"/>
<rect x="276.0" y="138.0" width="1" height="1" fill="#1b1b1b"/>
<line x1="282.8" y1="136" x2="282.8" y2="141.5" stroke="#1b1b1b" stroke-width="0.9" stroke-linecap="butt"/>
<line x1="280.8" y1="136" x2="284.8" y2="136" stroke="#1b1b1b" stroke-width="0.9" stroke-linecap="butt"/>
<line x1="280.8" y1="141.5" x2="284.8" y2="141.5" stroke="#1b1b1b" stroke-width="0.9" stroke-linecap="butt"/>
<rect x="280.3" y="136.3" width="5.0" height="5.0" fill="#fff" stroke="#1b1b1b" stroke-width="0.95"/>
<rect x="282.3" y="138.3" width="1" height="1" fill="#1b1b1b"/>
<line x1="290.8" y1="131.6" x2="290.8" y2="140.6" stroke="#1b1b1b" stroke-width="0.9" stroke-linecap="butt"/>
<line x1="288.8" y1="131.6" x2="292.8" y2="131.6" stroke="#1b1b1b" stroke-width="0.9" stroke-linecap="butt"/>
<line x1="288.8" y1="140.6" x2="292.8" y2="140.6" stroke="#1b1b1b" stroke-width="0.9" stroke-linecap="butt"/>
<rect x="288.3" y="133.6" width="5.0" height="5.0" fill="#fff" stroke="#1b1b1b" stroke-width="0.95"/>
<rect x="290.3" y="135.6" width="1" height="1" fill="#1b1b1b"/>
<line x1="297.1" y1="133.4" x2="297.1" y2="144.2" stroke="#1b1b1b" stroke-width="0.9" stroke-linecap="butt"/>
<line x1="295.1" y1="133.4" x2="299.1" y2="133.4" stroke="#1b1b1b" stroke-width="0.9" stroke-linecap="butt"/>
<line x1="295.1" y1="144.2" x2="299.1" y2="144.2" stroke="#1b1b1b" stroke-width="0.9" stroke-linecap="butt"/>
<rect x="294.6" y="136.0" width="5.0" height="5.0" fill="#fff" stroke="#1b1b1b" stroke-width="0.95"/>
<rect x="296.6" y="138.0" width="1" height="1" fill="#1b1b1b"/>
<line x1="302" y1="137.9" x2="302" y2="147.8" stroke="#1b1b1b" stroke-width="0.9" stroke-linecap="butt"/>
<line x1="300" y1="137.9" x2="304" y2="137.9" stroke="#1b1b1b" stroke-width="0.9" stroke-linecap="butt"/>
<line x1="300" y1="147.8" x2="304" y2="147.8" stroke="#1b1b1b" stroke-width="0.9" stroke-linecap="butt"/>
<rect x="299.5" y="139.9" width="5.0" height="5.0" fill="#fff" stroke="#1b1b1b" stroke-width="0.95"/>
<rect x="301.5" y="141.9" width="1" height="1" fill="#1b1b1b"/>
<line x1="308.2" y1="135.2" x2="308.2" y2="143.3" stroke="#1b1b1b" stroke-width="0.9" stroke-linecap="butt"/>
<line x1="306.2" y1="135.2" x2="310.2" y2="135.2" stroke="#1b1b1b" stroke-width="0.9" stroke-linecap="butt"/>
<line x1="306.2" y1="143.3" x2="310.2" y2="143.3" stroke="#1b1b1b" stroke-width="0.9" stroke-linecap="butt"/>
<rect x="305.7" y="136.0" width="5.0" height="5.0" fill="#fff" stroke="#1b1b1b" stroke-width="0.95"/>
<rect x="307.7" y="138.0" width="1" height="1" fill="#1b1b1b"/>
<path d="M155.00,33.50 C155.37,36.68 156.48,46.32 157.20,52.60 C157.92,58.88 158.43,65.02 159.30,71.20 C160.17,77.38 161.38,83.87 162.40,89.70 C163.42,95.53 164.20,101.05 165.40,106.20 C166.60,111.35 168.22,116.48 169.60,120.60 C170.98,124.72 172.33,128.50 173.70,130.90 C175.07,133.30 177.12,134.32 177.80,135.00" fill="none" stroke="#d81520" stroke-width="1.8" stroke-dasharray="3.5 2.5"/>
<line x1="178.6" y1="124.4" x2="221" y2="143.5" stroke="#2c42aa" stroke-width="1.8" stroke-dasharray="3.5 2.5" stroke-linecap="butt"/>
<rect x="43.6" y="270.6" width="286.4" height="231.09999999999997" fill="none" stroke="#1b1b1b" stroke-width="1.8"/>
<line x1="54.0" y1="501.7" x2="54.0" y2="506.7" stroke="#1b1b1b" stroke-width="1.7" stroke-linecap="butt"/>
<line x1="54.0" y1="270.6" x2="54.0" y2="275.6" stroke="#1b1b1b" stroke-width="1.7" stroke-linecap="butt"/>
<text x="0" y="0" transform="translate(54.0,517.1) scale(1,1.1)" font-size="9.6" text-anchor="middle" fill="#1b1b1b" stroke="#1b1b1b" stroke-width="0.28" >0</text>
<line x1="64.6" y1="501.7" x2="64.6" y2="504.7" stroke="#1b1b1b" stroke-width="1.7" stroke-linecap="butt"/>
<line x1="64.6" y1="270.6" x2="64.6" y2="273.6" stroke="#1b1b1b" stroke-width="1.7" stroke-linecap="butt"/>
<line x1="75.2" y1="501.7" x2="75.2" y2="506.7" stroke="#1b1b1b" stroke-width="1.7" stroke-linecap="butt"/>
<line x1="75.2" y1="270.6" x2="75.2" y2="275.6" stroke="#1b1b1b" stroke-width="1.7" stroke-linecap="butt"/>
<text x="0" y="0" transform="translate(75.2,517.1) scale(1,1.1)" font-size="9.6" text-anchor="middle" fill="#1b1b1b" stroke="#1b1b1b" stroke-width="0.28" >4</text>
<line x1="85.8" y1="501.7" x2="85.8" y2="504.7" stroke="#1b1b1b" stroke-width="1.7" stroke-linecap="butt"/>
<line x1="85.8" y1="270.6" x2="85.8" y2="273.6" stroke="#1b1b1b" stroke-width="1.7" stroke-linecap="butt"/>
<line x1="96.4" y1="501.7" x2="96.4" y2="506.7" stroke="#1b1b1b" stroke-width="1.7" stroke-linecap="butt"/>
<line x1="96.4" y1="270.6" x2="96.4" y2="275.6" stroke="#1b1b1b" stroke-width="1.7" stroke-linecap="butt"/>
<text x="0" y="0" transform="translate(96.4,517.1) scale(1,1.1)" font-size="9.6" text-anchor="middle" fill="#1b1b1b" stroke="#1b1b1b" stroke-width="0.28" >8</text>
<line x1="107.0" y1="501.7" x2="107.0" y2="504.7" stroke="#1b1b1b" stroke-width="1.7" stroke-linecap="butt"/>
<line x1="107.0" y1="270.6" x2="107.0" y2="273.6" stroke="#1b1b1b" stroke-width="1.7" stroke-linecap="butt"/>
<line x1="117.6" y1="501.7" x2="117.6" y2="506.7" stroke="#1b1b1b" stroke-width="1.7" stroke-linecap="butt"/>
<line x1="117.6" y1="270.6" x2="117.6" y2="275.6" stroke="#1b1b1b" stroke-width="1.7" stroke-linecap="butt"/>
<text x="0" y="0" transform="translate(117.6,517.1) scale(1,1.1)" font-size="9.6" text-anchor="middle" fill="#1b1b1b" stroke="#1b1b1b" stroke-width="0.28" >12</text>
<line x1="128.2" y1="501.7" x2="128.2" y2="504.7" stroke="#1b1b1b" stroke-width="1.7" stroke-linecap="butt"/>
<line x1="128.2" y1="270.6" x2="128.2" y2="273.6" stroke="#1b1b1b" stroke-width="1.7" stroke-linecap="butt"/>
<line x1="138.8" y1="501.7" x2="138.8" y2="506.7" stroke="#1b1b1b" stroke-width="1.7" stroke-linecap="butt"/>
<line x1="138.8" y1="270.6" x2="138.8" y2="275.6" stroke="#1b1b1b" stroke-width="1.7" stroke-linecap="butt"/>
<text x="0" y="0" transform="translate(138.8,517.1) scale(1,1.1)" font-size="9.6" text-anchor="middle" fill="#1b1b1b" stroke="#1b1b1b" stroke-width="0.28" >16</text>
<line x1="149.39999999999998" y1="501.7" x2="149.39999999999998" y2="504.7" stroke="#1b1b1b" stroke-width="1.7" stroke-linecap="butt"/>
<line x1="149.39999999999998" y1="270.6" x2="149.39999999999998" y2="273.6" stroke="#1b1b1b" stroke-width="1.7" stroke-linecap="butt"/>
<line x1="160.0" y1="501.7" x2="160.0" y2="506.7" stroke="#1b1b1b" stroke-width="1.7" stroke-linecap="butt"/>
<line x1="160.0" y1="270.6" x2="160.0" y2="275.6" stroke="#1b1b1b" stroke-width="1.7" stroke-linecap="butt"/>
<text x="0" y="0" transform="translate(160.0,517.1) scale(1,1.1)" font-size="9.6" text-anchor="middle" fill="#1b1b1b" stroke="#1b1b1b" stroke-width="0.28" >20</text>
<line x1="170.6" y1="501.7" x2="170.6" y2="504.7" stroke="#1b1b1b" stroke-width="1.7" stroke-linecap="butt"/>
<line x1="170.6" y1="270.6" x2="170.6" y2="273.6" stroke="#1b1b1b" stroke-width="1.7" stroke-linecap="butt"/>
<line x1="181.2" y1="501.7" x2="181.2" y2="506.7" stroke="#1b1b1b" stroke-width="1.7" stroke-linecap="butt"/>
<line x1="181.2" y1="270.6" x2="181.2" y2="275.6" stroke="#1b1b1b" stroke-width="1.7" stroke-linecap="butt"/>
<text x="0" y="0" transform="translate(181.2,517.1) scale(1,1.1)" font-size="9.6" text-anchor="middle" fill="#1b1b1b" stroke="#1b1b1b" stroke-width="0.28" >24</text>
<line x1="191.79999999999998" y1="501.7" x2="191.79999999999998" y2="504.7" stroke="#1b1b1b" stroke-width="1.7" stroke-linecap="butt"/>
<line x1="191.79999999999998" y1="270.6" x2="191.79999999999998" y2="273.6" stroke="#1b1b1b" stroke-width="1.7" stroke-linecap="butt"/>
<line x1="202.4" y1="501.7" x2="202.4" y2="506.7" stroke="#1b1b1b" stroke-width="1.7" stroke-linecap="butt"/>
<line x1="202.4" y1="270.6" x2="202.4" y2="275.6" stroke="#1b1b1b" stroke-width="1.7" stroke-linecap="butt"/>
<text x="0" y="0" transform="translate(202.4,517.1) scale(1,1.1)" font-size="9.6" text-anchor="middle" fill="#1b1b1b" stroke="#1b1b1b" stroke-width="0.28" >28</text>
<line x1="213.0" y1="501.7" x2="213.0" y2="504.7" stroke="#1b1b1b" stroke-width="1.7" stroke-linecap="butt"/>
<line x1="213.0" y1="270.6" x2="213.0" y2="273.6" stroke="#1b1b1b" stroke-width="1.7" stroke-linecap="butt"/>
<line x1="223.6" y1="501.7" x2="223.6" y2="506.7" stroke="#1b1b1b" stroke-width="1.7" stroke-linecap="butt"/>
<line x1="223.6" y1="270.6" x2="223.6" y2="275.6" stroke="#1b1b1b" stroke-width="1.7" stroke-linecap="butt"/>
<text x="0" y="0" transform="translate(223.6,517.1) scale(1,1.1)" font-size="9.6" text-anchor="middle" fill="#1b1b1b" stroke="#1b1b1b" stroke-width="0.28" >32</text>
<line x1="234.2" y1="501.7" x2="234.2" y2="504.7" stroke="#1b1b1b" stroke-width="1.7" stroke-linecap="butt"/>
<line x1="234.2" y1="270.6" x2="234.2" y2="273.6" stroke="#1b1b1b" stroke-width="1.7" stroke-linecap="butt"/>
<line x1="244.79999999999998" y1="501.7" x2="244.79999999999998" y2="506.7" stroke="#1b1b1b" stroke-width="1.7" stroke-linecap="butt"/>
<line x1="244.79999999999998" y1="270.6" x2="244.79999999999998" y2="275.6" stroke="#1b1b1b" stroke-width="1.7" stroke-linecap="butt"/>
<text x="0" y="0" transform="translate(244.79999999999998,517.1) scale(1,1.1)" font-size="9.6" text-anchor="middle" fill="#1b1b1b" stroke="#1b1b1b" stroke-width="0.28" >36</text>
<line x1="255.4" y1="501.7" x2="255.4" y2="504.7" stroke="#1b1b1b" stroke-width="1.7" stroke-linecap="butt"/>
<line x1="255.4" y1="270.6" x2="255.4" y2="273.6" stroke="#1b1b1b" stroke-width="1.7" stroke-linecap="butt"/>
<line x1="266.0" y1="501.7" x2="266.0" y2="506.7" stroke="#1b1b1b" stroke-width="1.7" stroke-linecap="butt"/>
<line x1="266.0" y1="270.6" x2="266.0" y2="275.6" stroke="#1b1b1b" stroke-width="1.7" stroke-linecap="butt"/>
<text x="0" y="0" transform="translate(266.0,517.1) scale(1,1.1)" font-size="9.6" text-anchor="middle" fill="#1b1b1b" stroke="#1b1b1b" stroke-width="0.28" >40</text>
<line x1="276.6" y1="501.7" x2="276.6" y2="504.7" stroke="#1b1b1b" stroke-width="1.7" stroke-linecap="butt"/>
<line x1="276.6" y1="270.6" x2="276.6" y2="273.6" stroke="#1b1b1b" stroke-width="1.7" stroke-linecap="butt"/>
<line x1="287.2" y1="501.7" x2="287.2" y2="506.7" stroke="#1b1b1b" stroke-width="1.7" stroke-linecap="butt"/>
<line x1="287.2" y1="270.6" x2="287.2" y2="275.6" stroke="#1b1b1b" stroke-width="1.7" stroke-linecap="butt"/>
<text x="0" y="0" transform="translate(287.2,517.1) scale(1,1.1)" font-size="9.6" text-anchor="middle" fill="#1b1b1b" stroke="#1b1b1b" stroke-width="0.28" >44</text>
<line x1="297.79999999999995" y1="501.7" x2="297.79999999999995" y2="504.7" stroke="#1b1b1b" stroke-width="1.7" stroke-linecap="butt"/>
<line x1="297.79999999999995" y1="270.6" x2="297.79999999999995" y2="273.6" stroke="#1b1b1b" stroke-width="1.7" stroke-linecap="butt"/>
<line x1="308.4" y1="501.7" x2="308.4" y2="506.7" stroke="#1b1b1b" stroke-width="1.7" stroke-linecap="butt"/>
<line x1="308.4" y1="270.6" x2="308.4" y2="275.6" stroke="#1b1b1b" stroke-width="1.7" stroke-linecap="butt"/>
<text x="0" y="0" transform="translate(308.4,517.1) scale(1,1.1)" font-size="9.6" text-anchor="middle" fill="#1b1b1b" stroke="#1b1b1b" stroke-width="0.28" >48</text>
<line x1="319.0" y1="501.7" x2="319.0" y2="504.7" stroke="#1b1b1b" stroke-width="1.7" stroke-linecap="butt"/>
<line x1="319.0" y1="270.6" x2="319.0" y2="273.6" stroke="#1b1b1b" stroke-width="1.7" stroke-linecap="butt"/>
<line x1="329.59999999999997" y1="501.7" x2="329.59999999999997" y2="506.7" stroke="#1b1b1b" stroke-width="1.7" stroke-linecap="butt"/>
<line x1="329.59999999999997" y1="270.6" x2="329.59999999999997" y2="275.6" stroke="#1b1b1b" stroke-width="1.7" stroke-linecap="butt"/>
<text x="0" y="0" transform="translate(329.59999999999997,517.1) scale(1,1.1)" font-size="9.6" text-anchor="middle" fill="#1b1b1b" stroke="#1b1b1b" stroke-width="0.28" >52</text>
<line x1="40.6" y1="501.20000000000005" x2="43.6" y2="501.20000000000005" stroke="#1b1b1b" stroke-width="1.7" stroke-linecap="butt"/>
<line x1="327.0" y1="501.20000000000005" x2="330.0" y2="501.20000000000005" stroke="#1b1b1b" stroke-width="1.7" stroke-linecap="butt"/>
<line x1="38.6" y1="482.0" x2="43.6" y2="482.0" stroke="#1b1b1b" stroke-width="1.7" stroke-linecap="butt"/>
<line x1="325.0" y1="482.0" x2="330.0" y2="482.0" stroke="#1b1b1b" stroke-width="1.7" stroke-linecap="butt"/>
<text x="0" y="0" transform="translate(35.3,486.3) scale(1,1.1)" font-size="9.1" text-anchor="end" fill="#1b1b1b" stroke="#1b1b1b" stroke-width="0.28" >1.3</text>
<line x1="40.6" y1="462.79999999999995" x2="43.6" y2="462.79999999999995" stroke="#1b1b1b" stroke-width="1.7" stroke-linecap="butt"/>
<line x1="327.0" y1="462.79999999999995" x2="330.0" y2="462.79999999999995" stroke="#1b1b1b" stroke-width="1.7" stroke-linecap="butt"/>
<line x1="38.6" y1="443.6" x2="43.6" y2="443.6" stroke="#1b1b1b" stroke-width="1.7" stroke-linecap="butt"/>
<line x1="325.0" y1="443.6" x2="330.0" y2="443.6" stroke="#1b1b1b" stroke-width="1.7" stroke-linecap="butt"/>
<text x="0" y="0" transform="translate(35.3,447.90000000000003) scale(1,1.1)" font-size="9.1" text-anchor="end" fill="#1b1b1b" stroke="#1b1b1b" stroke-width="0.28" >1.4</text>
<line x1="40.6" y1="424.40000000000003" x2="43.6" y2="424.40000000000003" stroke="#1b1b1b" stroke-width="1.7" stroke-linecap="butt"/>
<line x1="327.0" y1="424.40000000000003" x2="330.0" y2="424.40000000000003" stroke="#1b1b1b" stroke-width="1.7" stroke-linecap="butt"/>
<line x1="38.6" y1="405.20000000000005" x2="43.6" y2="405.20000000000005" stroke="#1b1b1b" stroke-width="1.7" stroke-linecap="butt"/>
<line x1="325.0" y1="405.20000000000005" x2="330.0" y2="405.20000000000005" stroke="#1b1b1b" stroke-width="1.7" stroke-linecap="butt"/>
<text x="0" y="0" transform="translate(35.3,409.50000000000006) scale(1,1.1)" font-size="9.1" text-anchor="end" fill="#1b1b1b" stroke="#1b1b1b" stroke-width="0.28" >1.5</text>
<line x1="40.6" y1="386.0" x2="43.6" y2="386.0" stroke="#1b1b1b" stroke-width="1.7" stroke-linecap="butt"/>
<line x1="327.0" y1="386.0" x2="330.0" y2="386.0" stroke="#1b1b1b" stroke-width="1.7" stroke-linecap="butt"/>
<line x1="38.6" y1="366.79999999999995" x2="43.6" y2="366.79999999999995" stroke="#1b1b1b" stroke-width="1.7" stroke-linecap="butt"/>
<line x1="325.0" y1="366.79999999999995" x2="330.0" y2="366.79999999999995" stroke="#1b1b1b" stroke-width="1.7" stroke-linecap="butt"/>
<text x="0" y="0" transform="translate(35.3,371.09999999999997) scale(1,1.1)" font-size="9.1" text-anchor="end" fill="#1b1b1b" stroke="#1b1b1b" stroke-width="0.28" >1.6</text>
<line x1="40.6" y1="347.6" x2="43.6" y2="347.6" stroke="#1b1b1b" stroke-width="1.7" stroke-linecap="butt"/>
<line x1="327.0" y1="347.6" x2="330.0" y2="347.6" stroke="#1b1b1b" stroke-width="1.7" stroke-linecap="butt"/>
<line x1="38.6" y1="328.40000000000003" x2="43.6" y2="328.40000000000003" stroke="#1b1b1b" stroke-width="1.7" stroke-linecap="butt"/>
<line x1="325.0" y1="328.40000000000003" x2="330.0" y2="328.40000000000003" stroke="#1b1b1b" stroke-width="1.7" stroke-linecap="butt"/>
<text x="0" y="0" transform="translate(35.3,332.70000000000005) scale(1,1.1)" font-size="9.1" text-anchor="end" fill="#1b1b1b" stroke="#1b1b1b" stroke-width="0.28" >1.7</text>
<line x1="40.6" y1="309.20000000000005" x2="43.6" y2="309.20000000000005" stroke="#1b1b1b" stroke-width="1.7" stroke-linecap="butt"/>
<line x1="327.0" y1="309.20000000000005" x2="330.0" y2="309.20000000000005" stroke="#1b1b1b" stroke-width="1.7" stroke-linecap="butt"/>
<line x1="38.6" y1="290.0" x2="43.6" y2="290.0" stroke="#1b1b1b" stroke-width="1.7" stroke-linecap="butt"/>
<line x1="325.0" y1="290.0" x2="330.0" y2="290.0" stroke="#1b1b1b" stroke-width="1.7" stroke-linecap="butt"/>
<text x="0" y="0" transform="translate(35.3,294.3) scale(1,1.1)" font-size="9.1" text-anchor="end" fill="#1b1b1b" stroke="#1b1b1b" stroke-width="0.28" >1.8</text>
<line x1="40.6" y1="270.79999999999995" x2="43.6" y2="270.79999999999995" stroke="#1b1b1b" stroke-width="1.7" stroke-linecap="butt"/>
<line x1="327.0" y1="270.79999999999995" x2="330.0" y2="270.79999999999995" stroke="#1b1b1b" stroke-width="1.7" stroke-linecap="butt"/>
<text x="0" y="0" font-size="11.8" text-anchor="middle" fill="#1b1b1b" stroke="#1b1b1b" stroke-width="0.28" transform="translate(15.7,395.1) rotate(-90) scale(1,1.05)">Te-Te layer distance/Mo-Te layer distance</text>
<text x="0" y="0" transform="translate(185.7,532.3) scale(1,1.1)" font-size="11.6" text-anchor="middle" fill="#1b1b1b" stroke="#1b1b1b" stroke-width="0.28" >Pressure (GPa)</text>
<defs><radialGradient id="sph" cx="0.5" cy="0.5" r="0.5" fx="0.36" fy="0.36"><stop offset="0" stop-color="#fff"/><stop offset="0.16" stop-color="#ddd"/><stop offset="0.42" stop-color="#2a2a2a"/><stop offset="0.75" stop-color="#050505"/><stop offset="1" stop-color="#000"/></radialGradient><radialGradient id="cir" cx="0.5" cy="0.5" r="0.5"><stop offset="0" stop-color="#fff"/><stop offset="1" stop-color="#fff"/></radialGradient></defs>
<circle cx="54.0" cy="294.3" r="4.55" fill="url(#sph)"/>
<circle cx="64.6" cy="319.1" r="4.55" fill="url(#sph)"/>
<circle cx="75.2" cy="341.2" r="4.55" fill="url(#sph)"/>
<circle cx="85.8" cy="360.6" r="4.55" fill="url(#sph)"/>
<circle cx="96.4" cy="377.9" r="4.55" fill="url(#sph)"/>
<circle cx="107.0" cy="391.3" r="4.55" fill="url(#sph)"/>
<circle cx="117.6" cy="404.8" r="4.55" fill="url(#sph)"/>
<circle cx="128.2" cy="414.6" r="4.55" fill="url(#sph)"/>
<circle cx="138.8" cy="422.1" r="4.55" fill="url(#sph)"/>
<circle cx="149.4" cy="429.3" r="4.55" fill="url(#sph)"/>
<circle cx="160.0" cy="433.1" r="4.55" fill="url(#sph)"/>
<circle cx="170.6" cy="438.2" r="4.55" fill="url(#sph)"/>
<circle cx="181.2" cy="442.4" r="4.55" fill="url(#sph)"/>
<circle cx="191.8" cy="446.7" r="4.55" fill="url(#sph)"/>
<circle cx="202.4" cy="450.3" r="4.55" fill="url(#sph)"/>
<circle cx="213.0" cy="453.4" r="4.55" fill="url(#sph)"/>
<circle cx="223.6" cy="456.5" r="4.55" fill="url(#sph)"/>
<circle cx="234.2" cy="459.4" r="4.55" fill="url(#sph)"/>
<circle cx="244.8" cy="462.6" r="4.55" fill="url(#sph)"/>
<circle cx="255.4" cy="465.3" r="4.55" fill="url(#sph)"/>
<circle cx="266.0" cy="467.7" r="4.55" fill="url(#sph)"/>
<circle cx="276.6" cy="470.4" r="4.55" fill="url(#sph)"/>
<circle cx="287.2" cy="472.8" r="4.55" fill="url(#sph)"/>
<circle cx="297.8" cy="475" r="4.55" fill="url(#sph)"/>
<circle cx="308.4" cy="477.1" r="4.55" fill="url(#sph)"/>
<circle cx="319.0" cy="479.5" r="4.55" fill="url(#sph)"/>
<line x1="96.8" y1="271.85" x2="96.8" y2="501.7" stroke="#1b1b1b" stroke-width="1.9" stroke-dasharray="5.6 4.45" stroke-linecap="butt"/>
<line x1="149.4" y1="271.1" x2="149.4" y2="501.7" stroke="#1b1b1b" stroke-width="1.9" stroke-dasharray="5.6 4.45" stroke-linecap="butt"/>
<text x="0" y="0" transform="translate(81.4,286.2) scale(1,1.1)" font-size="9.8" text-anchor="middle" fill="#7d1a1e" stroke="#7d1a1e" stroke-width="0.28" >DFT</text>
<text x="0" y="0" transform="translate(55,494.3) scale(1,1.1)" font-size="11.2" text-anchor="middle" fill="#222" stroke="#222" stroke-width="0.28" >(b)</text>
<text x="0" y="0" transform="translate(78.3,492.4) scale(1,1.1)" font-size="11.3" text-anchor="middle" fill="#7d1a1e" stroke="#7d1a1e" stroke-width="0.28" >I</text>
<text x="0" y="0" transform="translate(124.1,492.2) scale(1,1.1)" font-size="11.3" text-anchor="middle" fill="#7d1a1e" stroke="#7d1a1e" stroke-width="0.28" >II</text>
<text x="0" y="0" transform="translate(168.5,492.6) scale(1,1.1)" font-size="11.3" text-anchor="middle" fill="#7d1a1e" stroke="#7d1a1e" stroke-width="0.28" >III</text>
<line x1="55.0" y1="297.6" x2="116.3" y2="419.7" stroke="#d81520" stroke-width="2" stroke-dasharray="4.5 3" stroke-linecap="butt"/>
<line x1="91" y1="380.9" x2="168.6" y2="446.6" stroke="#2c42aa" stroke-width="2" stroke-dasharray="4.5 3" stroke-linecap="butt"/>
<line x1="138.7" y1="431" x2="322" y2="481" stroke="#7e1016" stroke-width="2" stroke-dasharray="5 3.5" stroke-linecap="butt"/>
<rect x="175.3" y="277.4" width="151.2" height="127.10000000000002" fill="#fff" stroke="#1b1b1b" stroke-width="1.1"/>
<line x1="180.9" y1="404.5" x2="180.9" y2="408.0" stroke="#1b1b1b" stroke-width="0.9" stroke-linecap="butt"/>
<line x1="180.9" y1="277.4" x2="180.9" y2="280.9" stroke="#1b1b1b" stroke-width="0.9" stroke-linecap="butt"/>
<text x="0" y="0" transform="translate(180.9,413.5) scale(1,1.08)" font-size="6.8" text-anchor="middle" fill="#1b1b1b" stroke="#1b1b1b" stroke-width="0.08" >0</text>
<line x1="186.496" y1="404.5" x2="186.496" y2="406.7" stroke="#1b1b1b" stroke-width="0.9" stroke-linecap="butt"/>
<line x1="186.496" y1="277.4" x2="186.496" y2="279.59999999999997" stroke="#1b1b1b" stroke-width="0.9" stroke-linecap="butt"/>
<line x1="192.092" y1="404.5" x2="192.092" y2="408.0" stroke="#1b1b1b" stroke-width="0.9" stroke-linecap="butt"/>
<line x1="192.092" y1="277.4" x2="192.092" y2="280.9" stroke="#1b1b1b" stroke-width="0.9" stroke-linecap="butt"/>
<text x="0" y="0" transform="translate(192.092,413.5) scale(1,1.08)" font-size="6.8" text-anchor="middle" fill="#1b1b1b" stroke="#1b1b1b" stroke-width="0.08" >4</text>
<line x1="197.68800000000002" y1="404.5" x2="197.68800000000002" y2="406.7" stroke="#1b1b1b" stroke-width="0.9" stroke-linecap="butt"/>
<line x1="197.68800000000002" y1="277.4" x2="197.68800000000002" y2="279.59999999999997" stroke="#1b1b1b" stroke-width="0.9" stroke-linecap="butt"/>
<line x1="203.284" y1="404.5" x2="203.284" y2="408.0" stroke="#1b1b1b" stroke-width="0.9" stroke-linecap="butt"/>
<line x1="203.284" y1="277.4" x2="203.284" y2="280.9" stroke="#1b1b1b" stroke-width="0.9" stroke-linecap="butt"/>
<text x="0" y="0" transform="translate(203.284,413.5) scale(1,1.08)" font-size="6.8" text-anchor="middle" fill="#1b1b1b" stroke="#1b1b1b" stroke-width="0.08" >8</text>
<line x1="208.88" y1="404.5" x2="208.88" y2="406.7" stroke="#1b1b1b" stroke-width="0.9" stroke-linecap="butt"/>
<line x1="208.88" y1="277.4" x2="208.88" y2="279.59999999999997" stroke="#1b1b1b" stroke-width="0.9" stroke-linecap="butt"/>
<line x1="214.476" y1="404.5" x2="214.476" y2="408.0" stroke="#1b1b1b" stroke-width="0.9" stroke-linecap="butt"/>
<line x1="214.476" y1="277.4" x2="214.476" y2="280.9" stroke="#1b1b1b" stroke-width="0.9" stroke-linecap="butt"/>
<text x="0" y="0" transform="translate(214.476,413.5) scale(1,1.08)" font-size="6.8" text-anchor="middle" fill="#1b1b1b" stroke="#1b1b1b" stroke-width="0.08" >12</text>
<line x1="220.072" y1="404.5" x2="220.072" y2="406.7" stroke="#1b1b1b" stroke-width="0.9" stroke-linecap="butt"/>
<line x1="220.072" y1="277.4" x2="220.072" y2="279.59999999999997" stroke="#1b1b1b" stroke-width="0.9" stroke-linecap="butt"/>
<line x1="225.668" y1="404.5" x2="225.668" y2="408.0" stroke="#1b1b1b" stroke-width="0.9" stroke-linecap="butt"/>
<line x1="225.668" y1="277.4" x2="225.668" y2="280.9" stroke="#1b1b1b" stroke-width="0.9" stroke-linecap="butt"/>
<text x="0" y="0" transform="translate(225.668,413.5) scale(1,1.08)" font-size="6.8" text-anchor="middle" fill="#1b1b1b" stroke="#1b1b1b" stroke-width="0.08" >16</text>
<line x1="231.264" y1="404.5" x2="231.264" y2="406.7" stroke="#1b1b1b" stroke-width="0.9" stroke-linecap="butt"/>
<line x1="231.264" y1="277.4" x2="231.264" y2="279.59999999999997" stroke="#1b1b1b" stroke-width="0.9" stroke-linecap="butt"/>
<line x1="236.86" y1="404.5" x2="236.86" y2="408.0" stroke="#1b1b1b" stroke-width="0.9" stroke-linecap="butt"/>
<line x1="236.86" y1="277.4" x2="236.86" y2="280.9" stroke="#1b1b1b" stroke-width="0.9" stroke-linecap="butt"/>
<text x="0" y="0" transform="translate(236.86,413.5) scale(1,1.08)" font-size="6.8" text-anchor="middle" fill="#1b1b1b" stroke="#1b1b1b" stroke-width="0.08" >20</text>
<line x1="242.45600000000002" y1="404.5" x2="242.45600000000002" y2="406.7" stroke="#1b1b1b" stroke-width="0.9" stroke-linecap="butt"/>
<line x1="242.45600000000002" y1="277.4" x2="242.45600000000002" y2="279.59999999999997" stroke="#1b1b1b" stroke-width="0.9" stroke-linecap="butt"/>
<line x1="248.05200000000002" y1="404.5" x2="248.05200000000002" y2="408.0" stroke="#1b1b1b" stroke-width="0.9" stroke-linecap="butt"/>
<line x1="248.05200000000002" y1="277.4" x2="248.05200000000002" y2="280.9" stroke="#1b1b1b" stroke-width="0.9" stroke-linecap="butt"/>
<text x="0" y="0" transform="translate(248.05200000000002,413.5) scale(1,1.08)" font-size="6.8" text-anchor="middle" fill="#1b1b1b" stroke="#1b1b1b" stroke-width="0.08" >24</text>
<line x1="253.64800000000002" y1="404.5" x2="253.64800000000002" y2="406.7" stroke="#1b1b1b" stroke-width="0.9" stroke-linecap="butt"/>
<line x1="253.64800000000002" y1="277.4" x2="253.64800000000002" y2="279.59999999999997" stroke="#1b1b1b" stroke-width="0.9" stroke-linecap="butt"/>
<line x1="259.244" y1="404.5" x2="259.244" y2="408.0" stroke="#1b1b1b" stroke-width="0.9" stroke-linecap="butt"/>
<line x1="259.244" y1="277.4" x2="259.244" y2="280.9" stroke="#1b1b1b" stroke-width="0.9" stroke-linecap="butt"/>
<text x="0" y="0" transform="translate(259.244,413.5) scale(1,1.08)" font-size="6.8" text-anchor="middle" fill="#1b1b1b" stroke="#1b1b1b" stroke-width="0.08" >28</text>
<line x1="264.84000000000003" y1="404.5" x2="264.84000000000003" y2="406.7" stroke="#1b1b1b" stroke-width="0.9" stroke-linecap="butt"/>
<line x1="264.84000000000003" y1="277.4" x2="264.84000000000003" y2="279.59999999999997" stroke="#1b1b1b" stroke-width="0.9" stroke-linecap="butt"/>
<line x1="270.43600000000004" y1="404.5" x2="270.43600000000004" y2="408.0" stroke="#1b1b1b" stroke-width="0.9" stroke-linecap="butt"/>
<line x1="270.43600000000004" y1="277.4" x2="270.43600000000004" y2="280.9" stroke="#1b1b1b" stroke-width="0.9" stroke-linecap="butt"/>
<text x="0" y="0" transform="translate(270.43600000000004,413.5) scale(1,1.08)" font-size="6.8" text-anchor="middle" fill="#1b1b1b" stroke="#1b1b1b" stroke-width="0.08" >32</text>
<line x1="276.03200000000004" y1="404.5" x2="276.03200000000004" y2="406.7" stroke="#1b1b1b" stroke-width="0.9" stroke-linecap="butt"/>
<line x1="276.03200000000004" y1="277.4" x2="276.03200000000004" y2="279.59999999999997" stroke="#1b1b1b" stroke-width="0.9" stroke-linecap="butt"/>
<line x1="281.62800000000004" y1="404.5" x2="281.62800000000004" y2="408.0" stroke="#1b1b1b" stroke-width="0.9" stroke-linecap="butt"/>
<line x1="281.62800000000004" y1="277.4" x2="281.62800000000004" y2="280.9" stroke="#1b1b1b" stroke-width="0.9" stroke-linecap="butt"/>
<text x="0" y="0" transform="translate(281.62800000000004,413.5) scale(1,1.08)" font-size="6.8" text-anchor="middle" fill="#1b1b1b" stroke="#1b1b1b" stroke-width="0.08" >36</text>
<line x1="287.224" y1="404.5" x2="287.224" y2="406.7" stroke="#1b1b1b" stroke-width="0.9" stroke-linecap="butt"/>
<line x1="287.224" y1="277.4" x2="287.224" y2="279.59999999999997" stroke="#1b1b1b" stroke-width="0.9" stroke-linecap="butt"/>
<line x1="292.82" y1="404.5" x2="292.82" y2="408.0" stroke="#1b1b1b" stroke-width="0.9" stroke-linecap="butt"/>
<line x1="292.82" y1="277.4" x2="292.82" y2="280.9" stroke="#1b1b1b" stroke-width="0.9" stroke-linecap="butt"/>
<text x="0" y="0" transform="translate(292.82,413.5) scale(1,1.08)" font-size="6.8" text-anchor="middle" fill="#1b1b1b" stroke="#1b1b1b" stroke-width="0.08" >40</text>
<line x1="298.416" y1="404.5" x2="298.416" y2="406.7" stroke="#1b1b1b" stroke-width="0.9" stroke-linecap="butt"/>
<line x1="298.416" y1="277.4" x2="298.416" y2="279.59999999999997" stroke="#1b1b1b" stroke-width="0.9" stroke-linecap="butt"/>
<line x1="304.012" y1="404.5" x2="304.012" y2="408.0" stroke="#1b1b1b" stroke-width="0.9" stroke-linecap="butt"/>
<line x1="304.012" y1="277.4" x2="304.012" y2="280.9" stroke="#1b1b1b" stroke-width="0.9" stroke-linecap="butt"/>
<text x="0" y="0" transform="translate(304.012,413.5) scale(1,1.08)" font-size="6.8" text-anchor="middle" fill="#1b1b1b" stroke="#1b1b1b" stroke-width="0.08" >44</text>
<line x1="309.608" y1="404.5" x2="309.608" y2="406.7" stroke="#1b1b1b" stroke-width="0.9" stroke-linecap="butt"/>
<line x1="309.608" y1="277.4" x2="309.608" y2="279.59999999999997" stroke="#1b1b1b" stroke-width="0.9" stroke-linecap="butt"/>
<line x1="315.204" y1="404.5" x2="315.204" y2="408.0" stroke="#1b1b1b" stroke-width="0.9" stroke-linecap="butt"/>
<line x1="315.204" y1="277.4" x2="315.204" y2="280.9" stroke="#1b1b1b" stroke-width="0.9" stroke-linecap="butt"/>
<text x="0" y="0" transform="translate(315.204,413.5) scale(1,1.08)" font-size="6.8" text-anchor="middle" fill="#1b1b1b" stroke="#1b1b1b" stroke-width="0.08" >48</text>
<line x1="320.8" y1="404.5" x2="320.8" y2="406.7" stroke="#1b1b1b" stroke-width="0.9" stroke-linecap="butt"/>
<line x1="320.8" y1="277.4" x2="320.8" y2="279.59999999999997" stroke="#1b1b1b" stroke-width="0.9" stroke-linecap="butt"/>
<line x1="326.396" y1="404.5" x2="326.396" y2="408.0" stroke="#1b1b1b" stroke-width="0.9" stroke-linecap="butt"/>
<line x1="326.396" y1="277.4" x2="326.396" y2="280.9" stroke="#1b1b1b" stroke-width="0.9" stroke-linecap="butt"/>
<text x="0" y="0" transform="translate(326.396,413.5) scale(1,1.08)" font-size="6.8" text-anchor="middle" fill="#1b1b1b" stroke="#1b1b1b" stroke-width="0.08" >52</text>
<line x1="172.5" y1="404.5" x2="175.3" y2="404.5" stroke="#1b1b1b" stroke-width="0.9" stroke-linecap="butt"/>
<line x1="323.7" y1="404.5" x2="326.5" y2="404.5" stroke="#1b1b1b" stroke-width="0.9" stroke-linecap="butt"/>
<text x="0" y="0" transform="translate(171.0,406.7) scale(1,1.08)" font-size="6.2" text-anchor="end" fill="#1b1b1b" stroke="#1b1b1b" stroke-width="0.04" >0.0000</text>
<line x1="173.70000000000002" y1="392.38" x2="175.3" y2="392.38" stroke="#1b1b1b" stroke-width="0.9" stroke-linecap="butt"/>
<line x1="324.9" y1="392.38" x2="326.5" y2="392.38" stroke="#1b1b1b" stroke-width="0.9" stroke-linecap="butt"/>
<line x1="172.5" y1="380.26" x2="175.3" y2="380.26" stroke="#1b1b1b" stroke-width="0.9" stroke-linecap="butt"/>
<line x1="323.7" y1="380.26" x2="326.5" y2="380.26" stroke="#1b1b1b" stroke-width="0.9" stroke-linecap="butt"/>
<text x="0" y="0" transform="translate(171.0,382.46) scale(1,1.08)" font-size="6.2" text-anchor="end" fill="#1b1b1b" stroke="#1b1b1b" stroke-width="0.04" >0.0004</text>
<line x1="173.70000000000002" y1="368.14" x2="175.3" y2="368.14" stroke="#1b1b1b" stroke-width="0.9" stroke-linecap="butt"/>
<line x1="324.9" y1="368.14" x2="326.5" y2="368.14" stroke="#1b1b1b" stroke-width="0.9" stroke-linecap="butt"/>
<line x1="172.5" y1="356.02" x2="175.3" y2="356.02" stroke="#1b1b1b" stroke-width="0.9" stroke-linecap="butt"/>
<line x1="323.7" y1="356.02" x2="326.5" y2="356.02" stroke="#1b1b1b" stroke-width="0.9" stroke-linecap="butt"/>
<text x="0" y="0" transform="translate(171.0,358.21999999999997) scale(1,1.08)" font-size="6.2" text-anchor="end" fill="#1b1b1b" stroke="#1b1b1b" stroke-width="0.04" >0.0008</text>
<line x1="173.70000000000002" y1="343.9" x2="175.3" y2="343.9" stroke="#1b1b1b" stroke-width="0.9" stroke-linecap="butt"/>
<line x1="324.9" y1="343.9" x2="326.5" y2="343.9" stroke="#1b1b1b" stroke-width="0.9" stroke-linecap="butt"/>
<line x1="172.5" y1="331.78" x2="175.3" y2="331.78" stroke="#1b1b1b" stroke-width="0.9" stroke-linecap="butt"/>
<line x1="323.7" y1="331.78" x2="326.5" y2="331.78" stroke="#1b1b1b" stroke-width="0.9" stroke-linecap="butt"/>
<text x="0" y="0" transform="translate(171.0,333.97999999999996) scale(1,1.08)" font-size="6.2" text-anchor="end" fill="#1b1b1b" stroke="#1b1b1b" stroke-width="0.04" >0.0012</text>
<line x1="173.70000000000002" y1="319.65999999999997" x2="175.3" y2="319.65999999999997" stroke="#1b1b1b" stroke-width="0.9" stroke-linecap="butt"/>
<line x1="324.9" y1="319.65999999999997" x2="326.5" y2="319.65999999999997" stroke="#1b1b1b" stroke-width="0.9" stroke-linecap="butt"/>
<line x1="172.5" y1="307.53999999999996" x2="175.3" y2="307.53999999999996" stroke="#1b1b1b" stroke-width="0.9" stroke-linecap="butt"/>
<line x1="323.7" y1="307.53999999999996" x2="326.5" y2="307.53999999999996" stroke="#1b1b1b" stroke-width="0.9" stroke-linecap="butt"/>
<text x="0" y="0" transform="translate(171.0,309.73999999999995) scale(1,1.08)" font-size="6.2" text-anchor="end" fill="#1b1b1b" stroke="#1b1b1b" stroke-width="0.04" >0.0016</text>
<line x1="173.70000000000002" y1="295.41999999999996" x2="175.3" y2="295.41999999999996" stroke="#1b1b1b" stroke-width="0.9" stroke-linecap="butt"/>
<line x1="324.9" y1="295.41999999999996" x2="326.5" y2="295.41999999999996" stroke="#1b1b1b" stroke-width="0.9" stroke-linecap="butt"/>
<line x1="172.5" y1="283.3" x2="175.3" y2="283.3" stroke="#1b1b1b" stroke-width="0.9" stroke-linecap="butt"/>
<line x1="323.7" y1="283.3" x2="326.5" y2="283.3" stroke="#1b1b1b" stroke-width="0.9" stroke-linecap="butt"/>
<text x="0" y="0" transform="translate(171.0,285.5) scale(1,1.08)" font-size="6.2" text-anchor="end" fill="#1b1b1b" stroke="#1b1b1b" stroke-width="0.04" >0.0020</text>
<text x="0" y="0" font-size="11.6" text-anchor="middle" fill="#1b1b1b" stroke="#1b1b1b" stroke-width="0.28" transform="translate(143.1,343.3) rotate(-90) scale(1,1.1)">-1/z(dz/dP)<tspan font-size="7.2" dy="2">Te</tspan></text>
<text x="0" y="0" transform="translate(259.6,423.2) scale(1,1.1)" font-size="9.6" text-anchor="middle" fill="#1b1b1b" stroke="#1b1b1b" stroke-width="0.28" >Pressure (GPa)</text>
<line x1="203.284" y1="285.1" x2="203.284" y2="404.5" stroke="#1b1b1b" stroke-width="1.8" stroke-dasharray="4.8 3.7" stroke-linecap="butt"/>
<line x1="231.264" y1="285.1" x2="231.264" y2="404.5" stroke="#1b1b1b" stroke-width="1.8" stroke-dasharray="4.8 3.7" stroke-linecap="butt"/>
<text x="0" y="0" transform="translate(312.4,289.8) scale(1,1.1)" font-size="9.9" text-anchor="middle" fill="#7d1a1e" stroke="#7d1a1e" stroke-width="0.28" >DFT</text>
<text x="0" y="0" transform="translate(188.1,399.0) scale(1,1.1)" font-size="11.6" text-anchor="middle" fill="#7d1a1e" stroke="#7d1a1e" stroke-width="0.28" >I</text>
<text x="0" y="0" transform="translate(216.3,399.0) scale(1,1.1)" font-size="11.6" text-anchor="middle" fill="#7d1a1e" stroke="#7d1a1e" stroke-width="0.28" >II</text>
<text x="0" y="0" transform="translate(243.3,399.3) scale(1,1.1)" font-size="11.6" text-anchor="middle" fill="#7d1a1e" stroke="#7d1a1e" stroke-width="0.28" >III</text>
<line x1="179.9" y1="289.9" x2="214.2" y2="341.2" stroke="#d81520" stroke-width="1.8" stroke-dasharray="3.5 2.5" stroke-linecap="butt"/>
<line x1="194.8" y1="312.2" x2="230" y2="374.9" stroke="#2c42aa" stroke-width="1.8" stroke-dasharray="3.5 2.5" stroke-linecap="butt"/>
<circle cx="180.9" cy="294.2" r="2.3" fill="none" stroke="#666" stroke-width="0.9"/>
<line x1="180.9" y1="291.9" x2="180.9" y2="296.5" stroke="#777" stroke-width="0.6" stroke-linecap="butt"/>
<line x1="178.6" y1="294.2" x2="183.20000000000002" y2="294.2" stroke="#777" stroke-width="0.6" stroke-linecap="butt"/>
<circle cx="186.5" cy="296.7" r="2.3" fill="none" stroke="#666" stroke-width="0.9"/>
<line x1="186.5" y1="294.4" x2="186.5" y2="299.0" stroke="#777" stroke-width="0.6" stroke-linecap="butt"/>
<line x1="184.2" y1="296.7" x2="188.8" y2="296.7" stroke="#777" stroke-width="0.6" stroke-linecap="butt"/>
<circle cx="192.09" cy="305.7" r="2.3" fill="none" stroke="#666" stroke-width="0.9"/>
<line x1="192.09" y1="303.4" x2="192.09" y2="308.0" stroke="#777" stroke-width="0.6" stroke-linecap="butt"/>
<line x1="189.79" y1="305.7" x2="194.39000000000001" y2="305.7" stroke="#777" stroke-width="0.6" stroke-linecap="butt"/>
<circle cx="197.69" cy="316.6" r="2.3" fill="none" stroke="#666" stroke-width="0.9"/>
<line x1="197.69" y1="314.3" x2="197.69" y2="318.90000000000003" stroke="#777" stroke-width="0.6" stroke-linecap="butt"/>
<line x1="195.39" y1="316.6" x2="199.99" y2="316.6" stroke="#777" stroke-width="0.6" stroke-linecap="butt"/>
<circle cx="203.28" cy="325.3" r="2.3" fill="none" stroke="#666" stroke-width="0.9"/>
<line x1="203.28" y1="323.0" x2="203.28" y2="327.6" stroke="#777" stroke-width="0.6" stroke-linecap="butt"/>
<line x1="200.98" y1="325.3" x2="205.58" y2="325.3" stroke="#777" stroke-width="0.6" stroke-linecap="butt"/>
<circle cx="208.88" cy="335.4" r="2.3" fill="none" stroke="#666" stroke-width="0.9"/>
<line x1="208.88" y1="333.09999999999997" x2="208.88" y2="337.7" stroke="#777" stroke-width="0.6" stroke-linecap="butt"/>
<line x1="206.57999999999998" y1="335.4" x2="211.18" y2="335.4" stroke="#777" stroke-width="0.6" stroke-linecap="butt"/>
<circle cx="214.48" cy="345.6" r="2.3" fill="none" stroke="#666" stroke-width="0.9"/>
<line x1="214.48" y1="343.3" x2="214.48" y2="347.90000000000003" stroke="#777" stroke-width="0.6" stroke-linecap="butt"/>
<line x1="212.17999999999998" y1="345.6" x2="216.78" y2="345.6" stroke="#777" stroke-width="0.6" stroke-linecap="butt"/>
<circle cx="220.07" cy="357.8" r="2.3" fill="none" stroke="#666" stroke-width="0.9"/>
<line x1="220.07" y1="355.5" x2="220.07" y2="360.1" stroke="#777" stroke-width="0.6" stroke-linecap="butt"/>
<line x1="217.76999999999998" y1="357.8" x2="222.37" y2="357.8" stroke="#777" stroke-width="0.6" stroke-linecap="butt"/>
<circle cx="225.67" cy="367.6" r="2.3" fill="none" stroke="#666" stroke-width="0.9"/>
<line x1="225.67" y1="365.3" x2="225.67" y2="369.90000000000003" stroke="#777" stroke-width="0.6" stroke-linecap="butt"/>
<line x1="223.36999999999998" y1="367.6" x2="227.97" y2="367.6" stroke="#777" stroke-width="0.6" stroke-linecap="butt"/>
<circle cx="231.26" cy="372.5" r="2.3" fill="none" stroke="#666" stroke-width="0.9"/>
<line x1="231.26" y1="370.2" x2="231.26" y2="374.8" stroke="#777" stroke-width="0.6" stroke-linecap="butt"/>
<line x1="228.95999999999998" y1="372.5" x2="233.56" y2="372.5" stroke="#777" stroke-width="0.6" stroke-linecap="butt"/>
<circle cx="236.86" cy="375.7" r="2.3" fill="none" stroke="#666" stroke-width="0.9"/>
<line x1="236.86" y1="373.4" x2="236.86" y2="378.0" stroke="#777" stroke-width="0.6" stroke-linecap="butt"/>
<line x1="234.56" y1="375.7" x2="239.16000000000003" y2="375.7" stroke="#777" stroke-width="0.6" stroke-linecap="butt"/>
<circle cx="242.46" cy="377.9" r="2.3" fill="none" stroke="#666" stroke-width="0.9"/>
<line x1="242.46" y1="375.59999999999997" x2="242.46" y2="380.2" stroke="#777" stroke-width="0.6" stroke-linecap="butt"/>
<line x1="240.16" y1="377.9" x2="244.76000000000002" y2="377.9" stroke="#777" stroke-width="0.6" stroke-linecap="butt"/>
<circle cx="248.05" cy="380.5" r="2.3" fill="none" stroke="#666" stroke-width="0.9"/>
<line x1="248.05" y1="378.2" x2="248.05" y2="382.8" stroke="#777" stroke-width="0.6" stroke-linecap="butt"/>
<line x1="245.75" y1="380.5" x2="250.35000000000002" y2="380.5" stroke="#777" stroke-width="0.6" stroke-linecap="butt"/>
<circle cx="253.65" cy="382.5" r="2.3" fill="none" stroke="#666" stroke-width="0.9"/>
<line x1="253.65" y1="380.2" x2="253.65" y2="384.8" stroke="#777" stroke-width="0.6" stroke-linecap="butt"/>
<line x1="251.35" y1="382.5" x2="255.95000000000002" y2="382.5" stroke="#777" stroke-width="0.6" stroke-linecap="butt"/>
<circle cx="259.24" cy="384.8" r="2.3" fill="none" stroke="#666" stroke-width="0.9"/>
<line x1="259.24" y1="382.5" x2="259.24" y2="387.1" stroke="#777" stroke-width="0.6" stroke-linecap="butt"/>
<line x1="256.94" y1="384.8" x2="261.54" y2="384.8" stroke="#777" stroke-width="0.6" stroke-linecap="butt"/>
<circle cx="264.84" cy="386.8" r="2.3" fill="none" stroke="#666" stroke-width="0.9"/>
<line x1="264.84" y1="384.5" x2="264.84" y2="389.1" stroke="#777" stroke-width="0.6" stroke-linecap="butt"/>
<line x1="262.53999999999996" y1="386.8" x2="267.14" y2="386.8" stroke="#777" stroke-width="0.6" stroke-linecap="butt"/>
<circle cx="270.44" cy="387.6" r="2.3" fill="none" stroke="#666" stroke-width="0.9"/>
<line x1="270.44" y1="385.3" x2="270.44" y2="389.90000000000003" stroke="#777" stroke-width="0.6" stroke-linecap="butt"/>
<line x1="268.14" y1="387.6" x2="272.74" y2="387.6" stroke="#777" stroke-width="0.6" stroke-linecap="butt"/>
<circle cx="276.03" cy="388.2" r="2.3" fill="none" stroke="#666" stroke-width="0.9"/>
<line x1="276.03" y1="385.9" x2="276.03" y2="390.5" stroke="#777" stroke-width="0.6" stroke-linecap="butt"/>
<line x1="273.72999999999996" y1="388.2" x2="278.33" y2="388.2" stroke="#777" stroke-width="0.6" stroke-linecap="butt"/>
<circle cx="281.63" cy="389" r="2.3" fill="none" stroke="#666" stroke-width="0.9"/>
<line x1="281.63" y1="386.7" x2="281.63" y2="391.3" stroke="#777" stroke-width="0.6" stroke-linecap="butt"/>
<line x1="279.33" y1="389" x2="283.93" y2="389" stroke="#777" stroke-width="0.6" stroke-linecap="butt"/>
<circle cx="287.22" cy="389.6" r="2.3" fill="none" stroke="#666" stroke-width="0.9"/>
<line x1="287.22" y1="387.3" x2="287.22" y2="391.90000000000003" stroke="#777" stroke-width="0.6" stroke-linecap="butt"/>
<line x1="284.92" y1="389.6" x2="289.52000000000004" y2="389.6" stroke="#777" stroke-width="0.6" stroke-linecap="butt"/>
<circle cx="292.82" cy="389.9" r="2.3" fill="none" stroke="#666" stroke-width="0.9"/>
<line x1="292.82" y1="387.59999999999997" x2="292.82" y2="392.2" stroke="#777" stroke-width="0.6" stroke-linecap="butt"/>
<line x1="290.52" y1="389.9" x2="295.12" y2="389.9" stroke="#777" stroke-width="0.6" stroke-linecap="butt"/>
<circle cx="298.42" cy="390.5" r="2.3" fill="none" stroke="#666" stroke-width="0.9"/>
<line x1="298.42" y1="388.2" x2="298.42" y2="392.8" stroke="#777" stroke-width="0.6" stroke-linecap="butt"/>
<line x1="296.12" y1="390.5" x2="300.72" y2="390.5" stroke="#777" stroke-width="0.6" stroke-linecap="butt"/>
<circle cx="304.01" cy="391" r="2.3" fill="none" stroke="#666" stroke-width="0.9"/>
<line x1="304.01" y1="388.7" x2="304.01" y2="393.3" stroke="#777" stroke-width="0.6" stroke-linecap="butt"/>
<line x1="301.71" y1="391" x2="306.31" y2="391" stroke="#777" stroke-width="0.6" stroke-linecap="butt"/>
<circle cx="309.61" cy="391.3" r="2.3" fill="none" stroke="#666" stroke-width="0.9"/>
<line x1="309.61" y1="389.0" x2="309.61" y2="393.6" stroke="#777" stroke-width="0.6" stroke-linecap="butt"/>
<line x1="307.31" y1="391.3" x2="311.91" y2="391.3" stroke="#777" stroke-width="0.6" stroke-linecap="butt"/>
<circle cx="315.2" cy="391.9" r="2.3" fill="none" stroke="#666" stroke-width="0.9"/>
<line x1="315.2" y1="389.59999999999997" x2="315.2" y2="394.2" stroke="#777" stroke-width="0.6" stroke-linecap="butt"/>
<line x1="312.9" y1="391.9" x2="317.5" y2="391.9" stroke="#777" stroke-width="0.6" stroke-linecap="butt"/>
<circle cx="320.8" cy="392.4" r="2.3" fill="none" stroke="#666" stroke-width="0.9"/>
<line x1="320.8" y1="390.09999999999997" x2="320.8" y2="394.7" stroke="#777" stroke-width="0.6" stroke-linecap="butt"/>
<line x1="318.5" y1="392.4" x2="323.1" y2="392.4" stroke="#777" stroke-width="0.6" stroke-linecap="butt"/>
</svg>
</body></html>
